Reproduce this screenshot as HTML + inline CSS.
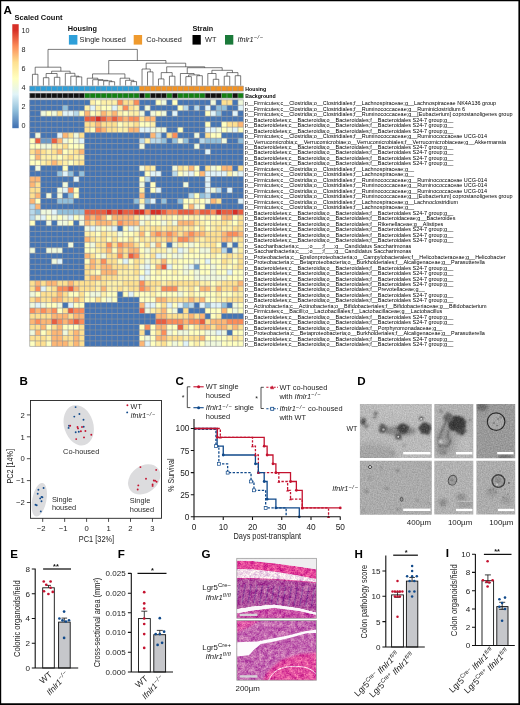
<!DOCTYPE html>
<html lang="en"><head><meta charset="utf-8"><title>Figure</title>
<style>html,body{margin:0;padding:0;background:#fff}body{width:520px;height:705px;overflow:hidden}svg{display:block}</style></head>
<body>
<svg width="520" height="705" viewBox="0 0 520 705" font-family='"Liberation Sans", Arial, sans-serif'>
<defs>
<linearGradient id="cb" x1="0" y1="0" x2="0" y2="1">
<stop offset="0" stop-color="#d73027"/>
<stop offset="0.059" stop-color="#d73027"/>
<stop offset="0.213" stop-color="#fc8d59"/>
<stop offset="0.367" stop-color="#fee090"/>
<stop offset="0.521" stop-color="#ffffbf"/>
<stop offset="0.675" stop-color="#e0f3f8"/>
<stop offset="0.829" stop-color="#91bfdb"/>
<stop offset="0.983" stop-color="#4575b4"/>
<stop offset="1" stop-color="#4575b4"/>
</linearGradient>
<filter id="b1" x="-50%" y="-50%" width="200%" height="200%"><feGaussianBlur stdDeviation="0.8"/></filter>
<filter id="b2" x="-50%" y="-50%" width="200%" height="200%"><feGaussianBlur stdDeviation="1.6"/></filter>
<filter id="b3" x="-50%" y="-50%" width="200%" height="200%"><feGaussianBlur stdDeviation="3"/></filter>
<filter id="b05" x="-50%" y="-50%" width="200%" height="200%"><feGaussianBlur stdDeviation="0.45"/></filter>
<filter id="grain" x="0" y="0" width="100%" height="100%" color-interpolation-filters="sRGB"><feTurbulence type="fractalNoise" baseFrequency="0.75" numOctaves="2" seed="3"/><feColorMatrix type="matrix" values="1 0 0 0 0  1 0 0 0 0  1 0 0 0 0  0 0 0 0 1" result="n"/><feComposite in="SourceGraphic" in2="n" operator="arithmetic" k1="0" k2="1" k3="0.2" k4="-0.1"/></filter>
<filter id="rough" x="-30%" y="-30%" width="160%" height="160%"><feTurbulence type="fractalNoise" baseFrequency="0.3" numOctaves="2" seed="5" result="t"/><feDisplacementMap in="SourceGraphic" in2="t" scale="4" xChannelSelector="R" yChannelSelector="G" result="d"/><feGaussianBlur in="d" stdDeviation="0.9"/></filter>
<filter id="hgrain" x="0" y="0" width="100%" height="100%" color-interpolation-filters="sRGB"><feTurbulence type="fractalNoise" baseFrequency="0.7" numOctaves="2" seed="8"/><feColorMatrix type="matrix" values="1.0 0 0 0 0  1.9 0 0 0 -0.45  0.8 0 0 0 0.1  0 0 0 0 1" result="n1"/><feTurbulence type="fractalNoise" baseFrequency="0.22" numOctaves="2" seed="21"/><feColorMatrix type="matrix" values="1.0 0 0 0 0  1.9 0 0 0 -0.45  0.8 0 0 0 0.1  0 0 0 0 1" result="n2"/><feComposite in="SourceGraphic" in2="n1" operator="arithmetic" k1="0" k2="1" k3="0.26" k4="-0.13" result="r1"/><feComposite in="r1" in2="n2" operator="arithmetic" k1="0" k2="1" k3="0.3" k4="-0.15" result="r2"/><feGaussianBlur in="r2" stdDeviation="0.35"/></filter>
</defs>
<rect x="0" y="0" width="520" height="705" fill="#fff"/>
<text x="3.60" y="13.70" font-size="11.6" font-weight="bold" fill="#000">A</text>
<text x="14.60" y="20.40" font-size="7.5" font-weight="bold" fill="#111">Scaled Count</text>
<rect x="12.3" y="24.2" width="6.4" height="104" fill="url(#cb)"/>
<text x="21.40" y="32.80" font-size="7.2" fill="#222">10</text>
<text x="21.40" y="51.90" font-size="7.2" fill="#222">8</text>
<text x="21.40" y="70.90" font-size="7.2" fill="#222">6</text>
<text x="21.40" y="89.90" font-size="7.2" fill="#222">4</text>
<text x="21.40" y="109.20" font-size="7.2" fill="#222">2</text>
<text x="21.40" y="128.40" font-size="7.2" fill="#222">0</text>
<text x="67.80" y="30.80" font-size="7.3" font-weight="bold" fill="#111">Housing</text>
<rect x="68.9" y="35" width="8.5" height="9.6" fill="#2e9fd9"/>
<text x="79.60" y="41.90" font-size="7.3" fill="#222">Single housed</text>
<rect x="133.7" y="35" width="8.4" height="9.6" fill="#ef9a2e"/>
<text x="146.20" y="41.90" font-size="7.3" fill="#222">Co-housed</text>
<text x="192.50" y="30.80" font-size="7.3" font-weight="bold" fill="#111">Strain</text>
<rect x="192.5" y="35" width="8.3" height="9.6" fill="#000"/>
<text x="205.00" y="41.90" font-size="7.3" fill="#222">WT</text>
<rect x="225" y="35" width="8.3" height="9.6" fill="#1b7a3a"/>
<text x="237.40" y="41.90" font-size="7.3" fill="#222"><tspan font-style="italic">Ifnlr1</tspan><tspan dy="-2.8" font-size="5.6" letter-spacing="0.7" font-style="italic">−/−</tspan></text>
<path d="M32.44 85.60V74.30H37.92V85.60M43.40 85.60V77.70H48.88V85.60M54.36 85.60V77.30H59.84V85.60M46.14 77.70V73.50H57.10V77.30M76.28 85.60V76.90H81.76V85.60M70.80 85.60V76.20H79.02V76.90M65.32 85.60V73.30H74.91V76.20M51.62 73.50V71.20H70.12V73.30M35.18 74.30V67.20H60.87V71.20M109.16 85.60V81.70H114.64V85.60M103.68 85.60V80.90H111.90V81.70M98.20 85.60V80.30H107.79V80.90M92.72 85.60V79.70H103.00V80.30M87.24 85.60V78.20H97.86V79.70M131.08 85.60V81.60H136.56V85.60M125.60 85.60V80.30H133.82V81.60M120.12 85.60V78.20H129.71V80.30M92.55 78.20V73.90H124.92V78.20M147.52 85.60V71.90H153.00V85.60M142.04 85.60V69.00H150.26V71.90M158.48 85.60V78.90H163.96V85.60M169.44 85.60V76.20H174.92V85.60M161.22 78.90V72.60H172.18V76.20M185.88 85.60V76.60H191.36V85.60M196.84 85.60V75.70H202.32V85.60M188.62 76.60V74.90H199.58V75.70M180.40 85.60V73.50H194.10V74.90M213.28 85.60V79.30H218.76V85.60M207.80 85.60V73.50H216.02V79.30M224.24 85.60V76.20H229.72V85.60M235.20 85.60V75.70H240.68V85.60M226.98 76.20V72.60H237.94V75.70M211.91 73.50V70.30H232.46V72.60M187.25 73.50V67.70H222.19V70.30M166.70 72.60V66.80H204.72V67.70M146.15 69.00V63.20H185.71V66.80M108.73 73.90V60.50H165.93V63.20M48.02 67.20V49.40H137.33V60.50" fill="none" stroke="#2b2b2b" stroke-width="0.62"/>
<rect x="29.70" y="86.1" width="5.48" height="5" fill="#2e9fd9"/>
<rect x="29.70" y="93.1" width="5.48" height="5" fill="#111"/>
<rect x="35.18" y="86.1" width="5.48" height="5" fill="#2e9fd9"/>
<rect x="35.18" y="93.1" width="5.48" height="5" fill="#111"/>
<rect x="40.66" y="86.1" width="5.48" height="5" fill="#2e9fd9"/>
<rect x="40.66" y="93.1" width="5.48" height="5" fill="#111"/>
<rect x="46.14" y="86.1" width="5.48" height="5" fill="#2e9fd9"/>
<rect x="46.14" y="93.1" width="5.48" height="5" fill="#111"/>
<rect x="51.62" y="86.1" width="5.48" height="5" fill="#2e9fd9"/>
<rect x="51.62" y="93.1" width="5.48" height="5" fill="#111"/>
<rect x="57.10" y="86.1" width="5.48" height="5" fill="#2e9fd9"/>
<rect x="57.10" y="93.1" width="5.48" height="5" fill="#111"/>
<rect x="62.58" y="86.1" width="5.48" height="5" fill="#2e9fd9"/>
<rect x="62.58" y="93.1" width="5.48" height="5" fill="#111"/>
<rect x="68.06" y="86.1" width="5.48" height="5" fill="#2e9fd9"/>
<rect x="68.06" y="93.1" width="5.48" height="5" fill="#111"/>
<rect x="73.54" y="86.1" width="5.48" height="5" fill="#2e9fd9"/>
<rect x="73.54" y="93.1" width="5.48" height="5" fill="#111"/>
<rect x="79.02" y="86.1" width="5.48" height="5" fill="#2e9fd9"/>
<rect x="79.02" y="93.1" width="5.48" height="5" fill="#111"/>
<rect x="84.50" y="86.1" width="5.48" height="5" fill="#2e9fd9"/>
<rect x="84.50" y="93.1" width="5.48" height="5" fill="#128012"/>
<rect x="89.98" y="86.1" width="5.48" height="5" fill="#2e9fd9"/>
<rect x="89.98" y="93.1" width="5.48" height="5" fill="#128012"/>
<rect x="95.46" y="86.1" width="5.48" height="5" fill="#2e9fd9"/>
<rect x="95.46" y="93.1" width="5.48" height="5" fill="#128012"/>
<rect x="100.94" y="86.1" width="5.48" height="5" fill="#2e9fd9"/>
<rect x="100.94" y="93.1" width="5.48" height="5" fill="#128012"/>
<rect x="106.42" y="86.1" width="5.48" height="5" fill="#2e9fd9"/>
<rect x="106.42" y="93.1" width="5.48" height="5" fill="#128012"/>
<rect x="111.90" y="86.1" width="5.48" height="5" fill="#2e9fd9"/>
<rect x="111.90" y="93.1" width="5.48" height="5" fill="#128012"/>
<rect x="117.38" y="86.1" width="5.48" height="5" fill="#2e9fd9"/>
<rect x="117.38" y="93.1" width="5.48" height="5" fill="#128012"/>
<rect x="122.86" y="86.1" width="5.48" height="5" fill="#2e9fd9"/>
<rect x="122.86" y="93.1" width="5.48" height="5" fill="#128012"/>
<rect x="128.34" y="86.1" width="5.48" height="5" fill="#2e9fd9"/>
<rect x="128.34" y="93.1" width="5.48" height="5" fill="#128012"/>
<rect x="133.82" y="86.1" width="5.48" height="5" fill="#2e9fd9"/>
<rect x="133.82" y="93.1" width="5.48" height="5" fill="#128012"/>
<rect x="139.30" y="86.1" width="5.48" height="5" fill="#f39323"/>
<rect x="139.30" y="93.1" width="5.48" height="5" fill="#111"/>
<rect x="144.78" y="86.1" width="5.48" height="5" fill="#f39323"/>
<rect x="144.78" y="93.1" width="5.48" height="5" fill="#128012"/>
<rect x="150.26" y="86.1" width="5.48" height="5" fill="#f39323"/>
<rect x="150.26" y="93.1" width="5.48" height="5" fill="#111"/>
<rect x="155.74" y="86.1" width="5.48" height="5" fill="#f39323"/>
<rect x="155.74" y="93.1" width="5.48" height="5" fill="#111"/>
<rect x="161.22" y="86.1" width="5.48" height="5" fill="#f39323"/>
<rect x="161.22" y="93.1" width="5.48" height="5" fill="#111"/>
<rect x="166.70" y="86.1" width="5.48" height="5" fill="#f39323"/>
<rect x="166.70" y="93.1" width="5.48" height="5" fill="#128012"/>
<rect x="172.18" y="86.1" width="5.48" height="5" fill="#f39323"/>
<rect x="172.18" y="93.1" width="5.48" height="5" fill="#111"/>
<rect x="177.66" y="86.1" width="5.48" height="5" fill="#f39323"/>
<rect x="177.66" y="93.1" width="5.48" height="5" fill="#128012"/>
<rect x="183.14" y="86.1" width="5.48" height="5" fill="#f39323"/>
<rect x="183.14" y="93.1" width="5.48" height="5" fill="#128012"/>
<rect x="188.62" y="86.1" width="5.48" height="5" fill="#f39323"/>
<rect x="188.62" y="93.1" width="5.48" height="5" fill="#128012"/>
<rect x="194.10" y="86.1" width="5.48" height="5" fill="#f39323"/>
<rect x="194.10" y="93.1" width="5.48" height="5" fill="#128012"/>
<rect x="199.58" y="86.1" width="5.48" height="5" fill="#f39323"/>
<rect x="199.58" y="93.1" width="5.48" height="5" fill="#128012"/>
<rect x="205.06" y="86.1" width="5.48" height="5" fill="#f39323"/>
<rect x="205.06" y="93.1" width="5.48" height="5" fill="#111"/>
<rect x="210.54" y="86.1" width="5.48" height="5" fill="#f39323"/>
<rect x="210.54" y="93.1" width="5.48" height="5" fill="#111"/>
<rect x="216.02" y="86.1" width="5.48" height="5" fill="#f39323"/>
<rect x="216.02" y="93.1" width="5.48" height="5" fill="#111"/>
<rect x="221.50" y="86.1" width="5.48" height="5" fill="#f39323"/>
<rect x="221.50" y="93.1" width="5.48" height="5" fill="#128012"/>
<rect x="226.98" y="86.1" width="5.48" height="5" fill="#f39323"/>
<rect x="226.98" y="93.1" width="5.48" height="5" fill="#128012"/>
<rect x="232.46" y="86.1" width="5.48" height="5" fill="#f39323"/>
<rect x="232.46" y="93.1" width="5.48" height="5" fill="#111"/>
<rect x="237.94" y="86.1" width="5.48" height="5" fill="#f39323"/>
<rect x="237.94" y="93.1" width="5.48" height="5" fill="#128012"/>
<rect x="29.70" y="99.80" width="60.33" height="5.53" fill="#4575b4"/>
<rect x="89.98" y="99.80" width="5.53" height="5.53" fill="#fef0a8"/>
<rect x="95.46" y="99.80" width="5.53" height="5.53" fill="#ffffbf"/>
<rect x="100.94" y="99.80" width="16.49" height="5.53" fill="#fef0a8"/>
<rect x="117.38" y="99.80" width="5.53" height="5.53" fill="#fc8d59"/>
<rect x="122.86" y="99.80" width="11.01" height="5.53" fill="#fee090"/>
<rect x="133.82" y="99.80" width="5.53" height="5.53" fill="#fc8d59"/>
<rect x="139.30" y="99.80" width="16.49" height="5.53" fill="#4575b4"/>
<rect x="155.74" y="99.80" width="5.53" height="5.53" fill="#ffffbf"/>
<rect x="161.22" y="99.80" width="5.53" height="5.53" fill="#f0f9dc"/>
<rect x="166.70" y="99.80" width="5.53" height="5.53" fill="#4575b4"/>
<rect x="172.18" y="99.80" width="5.53" height="5.53" fill="#ffffbf"/>
<rect x="177.66" y="99.80" width="32.93" height="5.53" fill="#4575b4"/>
<rect x="210.54" y="99.80" width="5.53" height="5.53" fill="#f0f9dc"/>
<rect x="216.02" y="99.80" width="5.53" height="5.53" fill="#4575b4"/>
<rect x="221.50" y="99.80" width="11.01" height="5.53" fill="#fee090"/>
<rect x="232.46" y="99.80" width="5.53" height="5.53" fill="#4575b4"/>
<rect x="237.94" y="99.80" width="5.53" height="5.53" fill="#f0f9dc"/>
<rect x="29.70" y="105.28" width="32.93" height="5.53" fill="#4575b4"/>
<rect x="62.58" y="105.28" width="5.53" height="5.53" fill="#91bfdb"/>
<rect x="68.06" y="105.28" width="16.49" height="5.53" fill="#4575b4"/>
<rect x="84.50" y="105.28" width="5.53" height="5.53" fill="#fef0a8"/>
<rect x="89.98" y="105.28" width="5.53" height="5.53" fill="#e0f3f8"/>
<rect x="95.46" y="105.28" width="5.53" height="5.53" fill="#fef0a8"/>
<rect x="100.94" y="105.28" width="11.01" height="5.53" fill="#ffffbf"/>
<rect x="111.90" y="105.28" width="5.53" height="5.53" fill="#e0f3f8"/>
<rect x="117.38" y="105.28" width="5.53" height="5.53" fill="#fef0a8"/>
<rect x="122.86" y="105.28" width="5.53" height="5.53" fill="#fc8d59"/>
<rect x="128.34" y="105.28" width="5.53" height="5.53" fill="#fee090"/>
<rect x="133.82" y="105.28" width="5.53" height="5.53" fill="#fef0a8"/>
<rect x="139.30" y="105.28" width="5.53" height="5.53" fill="#4575b4"/>
<rect x="144.78" y="105.28" width="5.53" height="5.53" fill="#f0f9dc"/>
<rect x="150.26" y="105.28" width="27.45" height="5.53" fill="#4575b4"/>
<rect x="177.66" y="105.28" width="5.53" height="5.53" fill="#ffffbf"/>
<rect x="183.14" y="105.28" width="5.53" height="5.53" fill="#b8d9ea"/>
<rect x="188.62" y="105.28" width="5.53" height="5.53" fill="#4575b4"/>
<rect x="194.10" y="105.28" width="5.53" height="5.53" fill="#b8d9ea"/>
<rect x="199.58" y="105.28" width="5.53" height="5.53" fill="#4575b4"/>
<rect x="205.06" y="105.28" width="5.53" height="5.53" fill="#e0f3f8"/>
<rect x="210.54" y="105.28" width="5.53" height="5.53" fill="#4575b4"/>
<rect x="216.02" y="105.28" width="11.01" height="5.53" fill="#91bfdb"/>
<rect x="226.98" y="105.28" width="11.01" height="5.53" fill="#4575b4"/>
<rect x="237.94" y="105.28" width="5.53" height="5.53" fill="#e0f3f8"/>
<rect x="29.70" y="110.76" width="11.01" height="5.53" fill="#4575b4"/>
<rect x="40.66" y="110.76" width="5.53" height="5.53" fill="#f0f9dc"/>
<rect x="46.14" y="110.76" width="5.53" height="5.53" fill="#ffffbf"/>
<rect x="51.62" y="110.76" width="5.53" height="5.53" fill="#f0f9dc"/>
<rect x="57.10" y="110.76" width="5.53" height="5.53" fill="#fee090"/>
<rect x="62.58" y="110.76" width="11.01" height="5.53" fill="#e0f3f8"/>
<rect x="73.54" y="110.76" width="5.53" height="5.53" fill="#b8d9ea"/>
<rect x="79.02" y="110.76" width="5.53" height="5.53" fill="#ffffbf"/>
<rect x="84.50" y="110.76" width="5.53" height="5.53" fill="#fdb674"/>
<rect x="89.98" y="110.76" width="5.53" height="5.53" fill="#ffffbf"/>
<rect x="95.46" y="110.76" width="5.53" height="5.53" fill="#fef0a8"/>
<rect x="100.94" y="110.76" width="5.53" height="5.53" fill="#fdb674"/>
<rect x="106.42" y="110.76" width="5.53" height="5.53" fill="#fee090"/>
<rect x="111.90" y="110.76" width="5.53" height="5.53" fill="#fdb674"/>
<rect x="117.38" y="110.76" width="5.53" height="5.53" fill="#fef0a8"/>
<rect x="122.86" y="110.76" width="5.53" height="5.53" fill="#ffffbf"/>
<rect x="128.34" y="110.76" width="11.01" height="5.53" fill="#fef0a8"/>
<rect x="139.30" y="110.76" width="5.53" height="5.53" fill="#f0f9dc"/>
<rect x="144.78" y="110.76" width="5.53" height="5.53" fill="#4575b4"/>
<rect x="150.26" y="110.76" width="5.53" height="5.53" fill="#f0f9dc"/>
<rect x="155.74" y="110.76" width="5.53" height="5.53" fill="#ffffbf"/>
<rect x="161.22" y="110.76" width="5.53" height="5.53" fill="#f0f9dc"/>
<rect x="166.70" y="110.76" width="5.53" height="5.53" fill="#4575b4"/>
<rect x="172.18" y="110.76" width="5.53" height="5.53" fill="#e0f3f8"/>
<rect x="177.66" y="110.76" width="27.45" height="5.53" fill="#4575b4"/>
<rect x="205.06" y="110.76" width="5.53" height="5.53" fill="#ffffbf"/>
<rect x="210.54" y="110.76" width="5.53" height="5.53" fill="#e0f3f8"/>
<rect x="216.02" y="110.76" width="5.53" height="5.53" fill="#91bfdb"/>
<rect x="221.50" y="110.76" width="11.01" height="5.53" fill="#4575b4"/>
<rect x="232.46" y="110.76" width="5.53" height="5.53" fill="#e0f3f8"/>
<rect x="237.94" y="110.76" width="5.53" height="5.53" fill="#4575b4"/>
<rect x="29.70" y="116.24" width="54.85" height="5.53" fill="#4575b4"/>
<rect x="84.50" y="116.24" width="11.01" height="5.53" fill="#ea5e40"/>
<rect x="95.46" y="116.24" width="5.53" height="5.53" fill="#d73027"/>
<rect x="100.94" y="116.24" width="5.53" height="5.53" fill="#ea5e40"/>
<rect x="106.42" y="116.24" width="5.53" height="5.53" fill="#fc8d59"/>
<rect x="111.90" y="116.24" width="5.53" height="5.53" fill="#ea5e40"/>
<rect x="117.38" y="116.24" width="5.53" height="5.53" fill="#fc8d59"/>
<rect x="122.86" y="116.24" width="5.53" height="5.53" fill="#fdb674"/>
<rect x="128.34" y="116.24" width="11.01" height="5.53" fill="#fc8d59"/>
<rect x="139.30" y="116.24" width="5.53" height="5.53" fill="#fee090"/>
<rect x="144.78" y="116.24" width="11.01" height="5.53" fill="#fdb674"/>
<rect x="155.74" y="116.24" width="87.73" height="5.53" fill="#4575b4"/>
<rect x="29.70" y="121.72" width="54.85" height="5.53" fill="#4575b4"/>
<rect x="84.50" y="121.72" width="11.01" height="5.53" fill="#fee090"/>
<rect x="95.46" y="121.72" width="5.53" height="5.53" fill="#fdb674"/>
<rect x="100.94" y="121.72" width="16.49" height="5.53" fill="#fee090"/>
<rect x="117.38" y="121.72" width="5.53" height="5.53" fill="#ffffbf"/>
<rect x="122.86" y="121.72" width="11.01" height="5.53" fill="#fef0a8"/>
<rect x="133.82" y="121.72" width="5.53" height="5.53" fill="#fee090"/>
<rect x="139.30" y="121.72" width="11.01" height="5.53" fill="#ffffbf"/>
<rect x="150.26" y="121.72" width="5.53" height="5.53" fill="#fef0a8"/>
<rect x="155.74" y="121.72" width="49.37" height="5.53" fill="#4575b4"/>
<rect x="205.06" y="121.72" width="5.53" height="5.53" fill="#ffffbf"/>
<rect x="210.54" y="121.72" width="11.01" height="5.53" fill="#4575b4"/>
<rect x="221.50" y="121.72" width="5.53" height="5.53" fill="#ffffbf"/>
<rect x="226.98" y="121.72" width="11.01" height="5.53" fill="#fee090"/>
<rect x="237.94" y="121.72" width="5.53" height="5.53" fill="#fdb674"/>
<rect x="29.70" y="127.20" width="54.85" height="5.53" fill="#4575b4"/>
<rect x="84.50" y="127.20" width="5.53" height="5.53" fill="#fee090"/>
<rect x="89.98" y="127.20" width="5.53" height="5.53" fill="#ffffbf"/>
<rect x="95.46" y="127.20" width="5.53" height="5.53" fill="#fc8d59"/>
<rect x="100.94" y="127.20" width="5.53" height="5.53" fill="#fdb674"/>
<rect x="106.42" y="127.20" width="11.01" height="5.53" fill="#fee090"/>
<rect x="117.38" y="127.20" width="11.01" height="5.53" fill="#fef0a8"/>
<rect x="128.34" y="127.20" width="11.01" height="5.53" fill="#fdb674"/>
<rect x="139.30" y="127.20" width="11.01" height="5.53" fill="#e0f3f8"/>
<rect x="150.26" y="127.20" width="16.49" height="5.53" fill="#f0f9dc"/>
<rect x="166.70" y="127.20" width="11.01" height="5.53" fill="#4575b4"/>
<rect x="177.66" y="127.20" width="5.53" height="5.53" fill="#ffffbf"/>
<rect x="183.14" y="127.20" width="21.97" height="5.53" fill="#4575b4"/>
<rect x="205.06" y="127.20" width="11.01" height="5.53" fill="#e0f3f8"/>
<rect x="216.02" y="127.20" width="5.53" height="5.53" fill="#f0f9dc"/>
<rect x="221.50" y="127.20" width="5.53" height="5.53" fill="#ffffbf"/>
<rect x="226.98" y="127.20" width="5.53" height="5.53" fill="#f0f9dc"/>
<rect x="232.46" y="127.20" width="5.53" height="5.53" fill="#e0f3f8"/>
<rect x="237.94" y="127.20" width="5.53" height="5.53" fill="#ffffbf"/>
<rect x="29.70" y="132.68" width="5.53" height="5.53" fill="#4575b4"/>
<rect x="35.18" y="132.68" width="5.53" height="5.53" fill="#f0f9dc"/>
<rect x="40.66" y="132.68" width="16.49" height="5.53" fill="#4575b4"/>
<rect x="57.10" y="132.68" width="5.53" height="5.53" fill="#e0f3f8"/>
<rect x="62.58" y="132.68" width="5.53" height="5.53" fill="#fdb674"/>
<rect x="68.06" y="132.68" width="5.53" height="5.53" fill="#fee090"/>
<rect x="73.54" y="132.68" width="5.53" height="5.53" fill="#f0f9dc"/>
<rect x="79.02" y="132.68" width="5.53" height="5.53" fill="#fee090"/>
<rect x="84.50" y="132.68" width="65.81" height="5.53" fill="#4575b4"/>
<rect x="150.26" y="132.68" width="5.53" height="5.53" fill="#fdb674"/>
<rect x="155.74" y="132.68" width="5.53" height="5.53" fill="#b8d9ea"/>
<rect x="161.22" y="132.68" width="5.53" height="5.53" fill="#4575b4"/>
<rect x="166.70" y="132.68" width="5.53" height="5.53" fill="#fee090"/>
<rect x="172.18" y="132.68" width="5.53" height="5.53" fill="#fc8d59"/>
<rect x="177.66" y="132.68" width="16.49" height="5.53" fill="#4575b4"/>
<rect x="194.10" y="132.68" width="5.53" height="5.53" fill="#f0f9dc"/>
<rect x="199.58" y="132.68" width="5.53" height="5.53" fill="#4575b4"/>
<rect x="205.06" y="132.68" width="5.53" height="5.53" fill="#fee090"/>
<rect x="210.54" y="132.68" width="11.01" height="5.53" fill="#ffffbf"/>
<rect x="221.50" y="132.68" width="21.97" height="5.53" fill="#4575b4"/>
<rect x="29.70" y="138.16" width="5.53" height="5.53" fill="#ffffbf"/>
<rect x="35.18" y="138.16" width="5.53" height="5.53" fill="#ea5e40"/>
<rect x="40.66" y="138.16" width="11.01" height="5.53" fill="#6b9ac8"/>
<rect x="51.62" y="138.16" width="5.53" height="5.53" fill="#ea5e40"/>
<rect x="57.10" y="138.16" width="5.53" height="5.53" fill="#fdb674"/>
<rect x="62.58" y="138.16" width="5.53" height="5.53" fill="#f0f9dc"/>
<rect x="68.06" y="138.16" width="5.53" height="5.53" fill="#ffffbf"/>
<rect x="73.54" y="138.16" width="5.53" height="5.53" fill="#f0f9dc"/>
<rect x="79.02" y="138.16" width="5.53" height="5.53" fill="#e0f3f8"/>
<rect x="84.50" y="138.16" width="54.85" height="5.53" fill="#4575b4"/>
<rect x="139.30" y="138.16" width="5.53" height="5.53" fill="#b8d9ea"/>
<rect x="144.78" y="138.16" width="5.53" height="5.53" fill="#fef0a8"/>
<rect x="150.26" y="138.16" width="11.01" height="5.53" fill="#b8d9ea"/>
<rect x="161.22" y="138.16" width="5.53" height="5.53" fill="#91bfdb"/>
<rect x="166.70" y="138.16" width="5.53" height="5.53" fill="#4575b4"/>
<rect x="172.18" y="138.16" width="5.53" height="5.53" fill="#91bfdb"/>
<rect x="177.66" y="138.16" width="5.53" height="5.53" fill="#f0f9dc"/>
<rect x="183.14" y="138.16" width="5.53" height="5.53" fill="#91bfdb"/>
<rect x="188.62" y="138.16" width="11.01" height="5.53" fill="#4575b4"/>
<rect x="199.58" y="138.16" width="5.53" height="5.53" fill="#b8d9ea"/>
<rect x="205.06" y="138.16" width="16.49" height="5.53" fill="#91bfdb"/>
<rect x="221.50" y="138.16" width="5.53" height="5.53" fill="#f0f9dc"/>
<rect x="226.98" y="138.16" width="11.01" height="5.53" fill="#4575b4"/>
<rect x="237.94" y="138.16" width="5.53" height="5.53" fill="#91bfdb"/>
<rect x="29.70" y="143.64" width="11.01" height="5.53" fill="#ffffbf"/>
<rect x="40.66" y="143.64" width="11.01" height="5.53" fill="#f0f9dc"/>
<rect x="51.62" y="143.64" width="11.01" height="5.53" fill="#fef0a8"/>
<rect x="62.58" y="143.64" width="5.53" height="5.53" fill="#fee090"/>
<rect x="68.06" y="143.64" width="16.49" height="5.53" fill="#ffffbf"/>
<rect x="84.50" y="143.64" width="54.85" height="5.53" fill="#4575b4"/>
<rect x="139.30" y="143.64" width="5.53" height="5.53" fill="#f0f9dc"/>
<rect x="144.78" y="143.64" width="49.37" height="5.53" fill="#4575b4"/>
<rect x="194.10" y="143.64" width="5.53" height="5.53" fill="#f0f9dc"/>
<rect x="199.58" y="143.64" width="43.89" height="5.53" fill="#4575b4"/>
<rect x="29.70" y="149.12" width="5.53" height="5.53" fill="#fee090"/>
<rect x="35.18" y="149.12" width="5.53" height="5.53" fill="#fdb674"/>
<rect x="40.66" y="149.12" width="5.53" height="5.53" fill="#fee090"/>
<rect x="46.14" y="149.12" width="5.53" height="5.53" fill="#fef0a8"/>
<rect x="51.62" y="149.12" width="5.53" height="5.53" fill="#fee090"/>
<rect x="57.10" y="149.12" width="5.53" height="5.53" fill="#fdb674"/>
<rect x="62.58" y="149.12" width="5.53" height="5.53" fill="#ffffbf"/>
<rect x="68.06" y="149.12" width="5.53" height="5.53" fill="#fef0a8"/>
<rect x="73.54" y="149.12" width="5.53" height="5.53" fill="#fee090"/>
<rect x="79.02" y="149.12" width="5.53" height="5.53" fill="#fdb674"/>
<rect x="84.50" y="149.12" width="120.61" height="5.53" fill="#4575b4"/>
<rect x="205.06" y="149.12" width="5.53" height="5.53" fill="#e0f3f8"/>
<rect x="210.54" y="149.12" width="32.93" height="5.53" fill="#4575b4"/>
<rect x="29.70" y="154.60" width="5.53" height="5.53" fill="#ffffbf"/>
<rect x="35.18" y="154.60" width="5.53" height="5.53" fill="#fdb674"/>
<rect x="40.66" y="154.60" width="16.49" height="5.53" fill="#fef0a8"/>
<rect x="57.10" y="154.60" width="5.53" height="5.53" fill="#ffffbf"/>
<rect x="62.58" y="154.60" width="5.53" height="5.53" fill="#fef0a8"/>
<rect x="68.06" y="154.60" width="5.53" height="5.53" fill="#fee090"/>
<rect x="73.54" y="154.60" width="11.01" height="5.53" fill="#fef0a8"/>
<rect x="84.50" y="154.60" width="158.97" height="5.53" fill="#4575b4"/>
<rect x="29.70" y="160.08" width="11.01" height="5.53" fill="#ffffbf"/>
<rect x="40.66" y="160.08" width="5.53" height="5.53" fill="#fef0a8"/>
<rect x="46.14" y="160.08" width="5.53" height="5.53" fill="#fee090"/>
<rect x="51.62" y="160.08" width="5.53" height="5.53" fill="#fdb674"/>
<rect x="57.10" y="160.08" width="5.53" height="5.53" fill="#fee090"/>
<rect x="62.58" y="160.08" width="5.53" height="5.53" fill="#fef0a8"/>
<rect x="68.06" y="160.08" width="5.53" height="5.53" fill="#ffffbf"/>
<rect x="73.54" y="160.08" width="5.53" height="5.53" fill="#fef0a8"/>
<rect x="79.02" y="160.08" width="5.53" height="5.53" fill="#fee090"/>
<rect x="84.50" y="160.08" width="158.97" height="5.53" fill="#4575b4"/>
<rect x="29.70" y="165.56" width="5.53" height="5.53" fill="#4575b4"/>
<rect x="35.18" y="165.56" width="5.53" height="5.53" fill="#f0f9dc"/>
<rect x="40.66" y="165.56" width="21.97" height="5.53" fill="#4575b4"/>
<rect x="62.58" y="165.56" width="5.53" height="5.53" fill="#ffffbf"/>
<rect x="68.06" y="165.56" width="71.29" height="5.53" fill="#4575b4"/>
<rect x="139.30" y="165.56" width="5.53" height="5.53" fill="#f0f9dc"/>
<rect x="144.78" y="165.56" width="5.53" height="5.53" fill="#fee090"/>
<rect x="150.26" y="165.56" width="5.53" height="5.53" fill="#fef0a8"/>
<rect x="155.74" y="165.56" width="16.49" height="5.53" fill="#4575b4"/>
<rect x="172.18" y="165.56" width="5.53" height="5.53" fill="#f0f9dc"/>
<rect x="177.66" y="165.56" width="5.53" height="5.53" fill="#fee090"/>
<rect x="183.14" y="165.56" width="5.53" height="5.53" fill="#fef0a8"/>
<rect x="188.62" y="165.56" width="5.53" height="5.53" fill="#fdb674"/>
<rect x="194.10" y="165.56" width="5.53" height="5.53" fill="#ffffbf"/>
<rect x="199.58" y="165.56" width="5.53" height="5.53" fill="#4575b4"/>
<rect x="205.06" y="165.56" width="5.53" height="5.53" fill="#fee090"/>
<rect x="210.54" y="165.56" width="5.53" height="5.53" fill="#f0f9dc"/>
<rect x="216.02" y="165.56" width="5.53" height="5.53" fill="#ffffbf"/>
<rect x="221.50" y="165.56" width="11.01" height="5.53" fill="#fdb674"/>
<rect x="232.46" y="165.56" width="5.53" height="5.53" fill="#4575b4"/>
<rect x="237.94" y="165.56" width="5.53" height="5.53" fill="#fee090"/>
<rect x="29.70" y="171.04" width="27.45" height="5.53" fill="#4575b4"/>
<rect x="57.10" y="171.04" width="5.53" height="5.53" fill="#91bfdb"/>
<rect x="62.58" y="171.04" width="5.53" height="5.53" fill="#e0f3f8"/>
<rect x="68.06" y="171.04" width="5.53" height="5.53" fill="#91bfdb"/>
<rect x="73.54" y="171.04" width="5.53" height="5.53" fill="#4575b4"/>
<rect x="79.02" y="171.04" width="5.53" height="5.53" fill="#91bfdb"/>
<rect x="84.50" y="171.04" width="60.33" height="5.53" fill="#4575b4"/>
<rect x="144.78" y="171.04" width="5.53" height="5.53" fill="#ffffbf"/>
<rect x="150.26" y="171.04" width="11.01" height="5.53" fill="#e0f3f8"/>
<rect x="161.22" y="171.04" width="11.01" height="5.53" fill="#4575b4"/>
<rect x="172.18" y="171.04" width="5.53" height="5.53" fill="#b8d9ea"/>
<rect x="177.66" y="171.04" width="5.53" height="5.53" fill="#ffffbf"/>
<rect x="183.14" y="171.04" width="5.53" height="5.53" fill="#f0f9dc"/>
<rect x="188.62" y="171.04" width="5.53" height="5.53" fill="#e0f3f8"/>
<rect x="194.10" y="171.04" width="5.53" height="5.53" fill="#ffffbf"/>
<rect x="199.58" y="171.04" width="5.53" height="5.53" fill="#fdb674"/>
<rect x="205.06" y="171.04" width="21.97" height="5.53" fill="#e0f3f8"/>
<rect x="226.98" y="171.04" width="5.53" height="5.53" fill="#fef0a8"/>
<rect x="232.46" y="171.04" width="5.53" height="5.53" fill="#f0f9dc"/>
<rect x="237.94" y="171.04" width="5.53" height="5.53" fill="#e0f3f8"/>
<rect x="29.70" y="176.52" width="11.01" height="5.53" fill="#fdb674"/>
<rect x="40.66" y="176.52" width="32.93" height="5.53" fill="#4575b4"/>
<rect x="73.54" y="176.52" width="5.53" height="5.53" fill="#e0f3f8"/>
<rect x="79.02" y="176.52" width="60.33" height="5.53" fill="#4575b4"/>
<rect x="139.30" y="176.52" width="5.53" height="5.53" fill="#ffffbf"/>
<rect x="144.78" y="176.52" width="5.53" height="5.53" fill="#b8d9ea"/>
<rect x="150.26" y="176.52" width="54.85" height="5.53" fill="#4575b4"/>
<rect x="205.06" y="176.52" width="5.53" height="5.53" fill="#e0f3f8"/>
<rect x="210.54" y="176.52" width="32.93" height="5.53" fill="#4575b4"/>
<rect x="29.70" y="182.00" width="5.53" height="5.53" fill="#fdb674"/>
<rect x="35.18" y="182.00" width="5.53" height="5.53" fill="#fee090"/>
<rect x="40.66" y="182.00" width="21.97" height="5.53" fill="#4575b4"/>
<rect x="62.58" y="182.00" width="5.53" height="5.53" fill="#f0f9dc"/>
<rect x="68.06" y="182.00" width="71.29" height="5.53" fill="#4575b4"/>
<rect x="139.30" y="182.00" width="5.53" height="5.53" fill="#f0f9dc"/>
<rect x="144.78" y="182.00" width="5.53" height="5.53" fill="#4575b4"/>
<rect x="150.26" y="182.00" width="5.53" height="5.53" fill="#ffffbf"/>
<rect x="155.74" y="182.00" width="27.45" height="5.53" fill="#4575b4"/>
<rect x="183.14" y="182.00" width="5.53" height="5.53" fill="#f0f9dc"/>
<rect x="188.62" y="182.00" width="16.49" height="5.53" fill="#4575b4"/>
<rect x="205.06" y="182.00" width="5.53" height="5.53" fill="#e0f3f8"/>
<rect x="210.54" y="182.00" width="32.93" height="5.53" fill="#4575b4"/>
<rect x="29.70" y="187.48" width="11.01" height="5.53" fill="#fee090"/>
<rect x="40.66" y="187.48" width="16.49" height="5.53" fill="#4575b4"/>
<rect x="57.10" y="187.48" width="5.53" height="5.53" fill="#f0f9dc"/>
<rect x="62.58" y="187.48" width="5.53" height="5.53" fill="#e0f3f8"/>
<rect x="68.06" y="187.48" width="5.53" height="5.53" fill="#fc8d59"/>
<rect x="73.54" y="187.48" width="5.53" height="5.53" fill="#ffffbf"/>
<rect x="79.02" y="187.48" width="60.33" height="5.53" fill="#4575b4"/>
<rect x="139.30" y="187.48" width="5.53" height="5.53" fill="#fef0a8"/>
<rect x="144.78" y="187.48" width="5.53" height="5.53" fill="#4575b4"/>
<rect x="150.26" y="187.48" width="5.53" height="5.53" fill="#ffffbf"/>
<rect x="155.74" y="187.48" width="5.53" height="5.53" fill="#e0f3f8"/>
<rect x="161.22" y="187.48" width="43.89" height="5.53" fill="#4575b4"/>
<rect x="205.06" y="187.48" width="5.53" height="5.53" fill="#e0f3f8"/>
<rect x="210.54" y="187.48" width="5.53" height="5.53" fill="#f0f9dc"/>
<rect x="216.02" y="187.48" width="5.53" height="5.53" fill="#b8d9ea"/>
<rect x="221.50" y="187.48" width="5.53" height="5.53" fill="#4575b4"/>
<rect x="226.98" y="187.48" width="5.53" height="5.53" fill="#e0f3f8"/>
<rect x="232.46" y="187.48" width="11.01" height="5.53" fill="#4575b4"/>
<rect x="29.70" y="192.96" width="5.53" height="5.53" fill="#fee090"/>
<rect x="35.18" y="192.96" width="5.53" height="5.53" fill="#fdb674"/>
<rect x="40.66" y="192.96" width="5.53" height="5.53" fill="#4575b4"/>
<rect x="46.14" y="192.96" width="5.53" height="5.53" fill="#f0f9dc"/>
<rect x="51.62" y="192.96" width="5.53" height="5.53" fill="#4575b4"/>
<rect x="57.10" y="192.96" width="5.53" height="5.53" fill="#f0f9dc"/>
<rect x="62.58" y="192.96" width="5.53" height="5.53" fill="#4575b4"/>
<rect x="68.06" y="192.96" width="5.53" height="5.53" fill="#91bfdb"/>
<rect x="73.54" y="192.96" width="5.53" height="5.53" fill="#ffffbf"/>
<rect x="79.02" y="192.96" width="60.33" height="5.53" fill="#4575b4"/>
<rect x="139.30" y="192.96" width="5.53" height="5.53" fill="#fdb674"/>
<rect x="144.78" y="192.96" width="43.89" height="5.53" fill="#4575b4"/>
<rect x="188.62" y="192.96" width="5.53" height="5.53" fill="#b8d9ea"/>
<rect x="194.10" y="192.96" width="5.53" height="5.53" fill="#ffffbf"/>
<rect x="199.58" y="192.96" width="5.53" height="5.53" fill="#91bfdb"/>
<rect x="205.06" y="192.96" width="5.53" height="5.53" fill="#b8d9ea"/>
<rect x="210.54" y="192.96" width="32.93" height="5.53" fill="#4575b4"/>
<rect x="29.70" y="198.44" width="5.53" height="5.53" fill="#fdb674"/>
<rect x="35.18" y="198.44" width="5.53" height="5.53" fill="#ffffbf"/>
<rect x="40.66" y="198.44" width="16.49" height="5.53" fill="#4575b4"/>
<rect x="57.10" y="198.44" width="16.49" height="5.53" fill="#91bfdb"/>
<rect x="73.54" y="198.44" width="60.33" height="5.53" fill="#4575b4"/>
<rect x="133.82" y="198.44" width="5.53" height="5.53" fill="#91bfdb"/>
<rect x="139.30" y="198.44" width="5.53" height="5.53" fill="#fef0a8"/>
<rect x="144.78" y="198.44" width="5.53" height="5.53" fill="#91bfdb"/>
<rect x="150.26" y="198.44" width="5.53" height="5.53" fill="#e0f3f8"/>
<rect x="155.74" y="198.44" width="5.53" height="5.53" fill="#4575b4"/>
<rect x="161.22" y="198.44" width="5.53" height="5.53" fill="#91bfdb"/>
<rect x="166.70" y="198.44" width="11.01" height="5.53" fill="#4575b4"/>
<rect x="177.66" y="198.44" width="5.53" height="5.53" fill="#91bfdb"/>
<rect x="183.14" y="198.44" width="11.01" height="5.53" fill="#ffffbf"/>
<rect x="194.10" y="198.44" width="5.53" height="5.53" fill="#fef0a8"/>
<rect x="199.58" y="198.44" width="5.53" height="5.53" fill="#ffffbf"/>
<rect x="205.06" y="198.44" width="5.53" height="5.53" fill="#f0f9dc"/>
<rect x="210.54" y="198.44" width="5.53" height="5.53" fill="#fdb674"/>
<rect x="216.02" y="198.44" width="5.53" height="5.53" fill="#fee090"/>
<rect x="221.50" y="198.44" width="16.49" height="5.53" fill="#4575b4"/>
<rect x="237.94" y="198.44" width="5.53" height="5.53" fill="#e0f3f8"/>
<rect x="29.70" y="203.92" width="5.53" height="5.53" fill="#b8d9ea"/>
<rect x="35.18" y="203.92" width="5.53" height="5.53" fill="#fdb674"/>
<rect x="40.66" y="203.92" width="98.69" height="5.53" fill="#4575b4"/>
<rect x="139.30" y="203.92" width="5.53" height="5.53" fill="#f0f9dc"/>
<rect x="144.78" y="203.92" width="38.41" height="5.53" fill="#4575b4"/>
<rect x="183.14" y="203.92" width="5.53" height="5.53" fill="#ffffbf"/>
<rect x="188.62" y="203.92" width="5.53" height="5.53" fill="#fdb674"/>
<rect x="194.10" y="203.92" width="5.53" height="5.53" fill="#f0f9dc"/>
<rect x="199.58" y="203.92" width="5.53" height="5.53" fill="#ffffbf"/>
<rect x="205.06" y="203.92" width="38.41" height="5.53" fill="#4575b4"/>
<rect x="29.70" y="209.40" width="5.53" height="5.53" fill="#b8d9ea"/>
<rect x="35.18" y="209.40" width="5.53" height="5.53" fill="#91bfdb"/>
<rect x="40.66" y="209.40" width="11.01" height="5.53" fill="#f0f9dc"/>
<rect x="51.62" y="209.40" width="5.53" height="5.53" fill="#e0f3f8"/>
<rect x="57.10" y="209.40" width="27.45" height="5.53" fill="#91bfdb"/>
<rect x="84.50" y="209.40" width="21.97" height="5.53" fill="#ea5e40"/>
<rect x="106.42" y="209.40" width="5.53" height="5.53" fill="#d73027"/>
<rect x="111.90" y="209.40" width="5.53" height="5.53" fill="#ea5e40"/>
<rect x="117.38" y="209.40" width="5.53" height="5.53" fill="#d73027"/>
<rect x="122.86" y="209.40" width="11.01" height="5.53" fill="#ea5e40"/>
<rect x="133.82" y="209.40" width="11.01" height="5.53" fill="#d73027"/>
<rect x="144.78" y="209.40" width="5.53" height="5.53" fill="#fc8d59"/>
<rect x="150.26" y="209.40" width="11.01" height="5.53" fill="#d73027"/>
<rect x="161.22" y="209.40" width="5.53" height="5.53" fill="#ea5e40"/>
<rect x="166.70" y="209.40" width="11.01" height="5.53" fill="#fc8d59"/>
<rect x="177.66" y="209.40" width="16.49" height="5.53" fill="#ea5e40"/>
<rect x="194.10" y="209.40" width="5.53" height="5.53" fill="#fc8d59"/>
<rect x="199.58" y="209.40" width="11.01" height="5.53" fill="#ea5e40"/>
<rect x="210.54" y="209.40" width="5.53" height="5.53" fill="#fc8d59"/>
<rect x="216.02" y="209.40" width="5.53" height="5.53" fill="#d73027"/>
<rect x="221.50" y="209.40" width="11.01" height="5.53" fill="#ea5e40"/>
<rect x="232.46" y="209.40" width="5.53" height="5.53" fill="#d73027"/>
<rect x="237.94" y="209.40" width="5.53" height="5.53" fill="#ea5e40"/>
<rect x="29.70" y="214.88" width="5.53" height="5.53" fill="#b8d9ea"/>
<rect x="35.18" y="214.88" width="5.53" height="5.53" fill="#f0f9dc"/>
<rect x="40.66" y="214.88" width="5.53" height="5.53" fill="#e0f3f8"/>
<rect x="46.14" y="214.88" width="5.53" height="5.53" fill="#ffffbf"/>
<rect x="51.62" y="214.88" width="5.53" height="5.53" fill="#f0f9dc"/>
<rect x="57.10" y="214.88" width="5.53" height="5.53" fill="#ffffbf"/>
<rect x="62.58" y="214.88" width="5.53" height="5.53" fill="#f0f9dc"/>
<rect x="68.06" y="214.88" width="5.53" height="5.53" fill="#e0f3f8"/>
<rect x="73.54" y="214.88" width="5.53" height="5.53" fill="#ffffbf"/>
<rect x="79.02" y="214.88" width="5.53" height="5.53" fill="#f0f9dc"/>
<rect x="84.50" y="214.88" width="5.53" height="5.53" fill="#fc8d59"/>
<rect x="89.98" y="214.88" width="5.53" height="5.53" fill="#fdb674"/>
<rect x="95.46" y="214.88" width="5.53" height="5.53" fill="#fc8d59"/>
<rect x="100.94" y="214.88" width="5.53" height="5.53" fill="#fdb674"/>
<rect x="106.42" y="214.88" width="5.53" height="5.53" fill="#ffffbf"/>
<rect x="111.90" y="214.88" width="21.97" height="5.53" fill="#fdb674"/>
<rect x="133.82" y="214.88" width="5.53" height="5.53" fill="#fee090"/>
<rect x="139.30" y="214.88" width="5.53" height="5.53" fill="#ffffbf"/>
<rect x="144.78" y="214.88" width="5.53" height="5.53" fill="#f0f9dc"/>
<rect x="150.26" y="214.88" width="5.53" height="5.53" fill="#fef0a8"/>
<rect x="155.74" y="214.88" width="5.53" height="5.53" fill="#ffffbf"/>
<rect x="161.22" y="214.88" width="11.01" height="5.53" fill="#fef0a8"/>
<rect x="172.18" y="214.88" width="5.53" height="5.53" fill="#ffffbf"/>
<rect x="177.66" y="214.88" width="5.53" height="5.53" fill="#fef0a8"/>
<rect x="183.14" y="214.88" width="5.53" height="5.53" fill="#ffffbf"/>
<rect x="188.62" y="214.88" width="11.01" height="5.53" fill="#fef0a8"/>
<rect x="199.58" y="214.88" width="5.53" height="5.53" fill="#ffffbf"/>
<rect x="205.06" y="214.88" width="5.53" height="5.53" fill="#fef0a8"/>
<rect x="210.54" y="214.88" width="11.01" height="5.53" fill="#ffffbf"/>
<rect x="221.50" y="214.88" width="11.01" height="5.53" fill="#fdb674"/>
<rect x="232.46" y="214.88" width="5.53" height="5.53" fill="#ffffbf"/>
<rect x="237.94" y="214.88" width="5.53" height="5.53" fill="#fee090"/>
<rect x="29.70" y="220.36" width="5.53" height="5.53" fill="#ffffbf"/>
<rect x="35.18" y="220.36" width="11.01" height="5.53" fill="#4575b4"/>
<rect x="46.14" y="220.36" width="5.53" height="5.53" fill="#f0f9dc"/>
<rect x="51.62" y="220.36" width="5.53" height="5.53" fill="#4575b4"/>
<rect x="57.10" y="220.36" width="11.01" height="5.53" fill="#f0f9dc"/>
<rect x="68.06" y="220.36" width="5.53" height="5.53" fill="#ffffbf"/>
<rect x="73.54" y="220.36" width="5.53" height="5.53" fill="#4575b4"/>
<rect x="79.02" y="220.36" width="5.53" height="5.53" fill="#f0f9dc"/>
<rect x="84.50" y="220.36" width="5.53" height="5.53" fill="#fdb674"/>
<rect x="89.98" y="220.36" width="5.53" height="5.53" fill="#fee090"/>
<rect x="95.46" y="220.36" width="16.49" height="5.53" fill="#fdb674"/>
<rect x="111.90" y="220.36" width="5.53" height="5.53" fill="#fee090"/>
<rect x="117.38" y="220.36" width="5.53" height="5.53" fill="#fc8d59"/>
<rect x="122.86" y="220.36" width="16.49" height="5.53" fill="#fdb674"/>
<rect x="139.30" y="220.36" width="5.53" height="5.53" fill="#f0f9dc"/>
<rect x="144.78" y="220.36" width="5.53" height="5.53" fill="#fef0a8"/>
<rect x="150.26" y="220.36" width="11.01" height="5.53" fill="#ffffbf"/>
<rect x="161.22" y="220.36" width="5.53" height="5.53" fill="#f0f9dc"/>
<rect x="166.70" y="220.36" width="5.53" height="5.53" fill="#fef0a8"/>
<rect x="172.18" y="220.36" width="5.53" height="5.53" fill="#f0f9dc"/>
<rect x="177.66" y="220.36" width="16.49" height="5.53" fill="#fdb674"/>
<rect x="194.10" y="220.36" width="5.53" height="5.53" fill="#fee090"/>
<rect x="199.58" y="220.36" width="5.53" height="5.53" fill="#fef0a8"/>
<rect x="205.06" y="220.36" width="5.53" height="5.53" fill="#ffffbf"/>
<rect x="210.54" y="220.36" width="11.01" height="5.53" fill="#fef0a8"/>
<rect x="221.50" y="220.36" width="5.53" height="5.53" fill="#fee090"/>
<rect x="226.98" y="220.36" width="5.53" height="5.53" fill="#fef0a8"/>
<rect x="232.46" y="220.36" width="5.53" height="5.53" fill="#ffffbf"/>
<rect x="237.94" y="220.36" width="5.53" height="5.53" fill="#fee090"/>
<rect x="29.70" y="225.84" width="54.85" height="5.53" fill="#4575b4"/>
<rect x="84.50" y="225.84" width="5.53" height="5.53" fill="#f0f9dc"/>
<rect x="89.98" y="225.84" width="5.53" height="5.53" fill="#e0f3f8"/>
<rect x="95.46" y="225.84" width="5.53" height="5.53" fill="#f0f9dc"/>
<rect x="100.94" y="225.84" width="5.53" height="5.53" fill="#ffffbf"/>
<rect x="106.42" y="225.84" width="5.53" height="5.53" fill="#f0f9dc"/>
<rect x="111.90" y="225.84" width="5.53" height="5.53" fill="#e0f3f8"/>
<rect x="117.38" y="225.84" width="5.53" height="5.53" fill="#4575b4"/>
<rect x="122.86" y="225.84" width="5.53" height="5.53" fill="#ffffbf"/>
<rect x="128.34" y="225.84" width="5.53" height="5.53" fill="#e0f3f8"/>
<rect x="133.82" y="225.84" width="5.53" height="5.53" fill="#f0f9dc"/>
<rect x="139.30" y="225.84" width="5.53" height="5.53" fill="#fee090"/>
<rect x="144.78" y="225.84" width="5.53" height="5.53" fill="#fef0a8"/>
<rect x="150.26" y="225.84" width="11.01" height="5.53" fill="#fee090"/>
<rect x="161.22" y="225.84" width="5.53" height="5.53" fill="#fef0a8"/>
<rect x="166.70" y="225.84" width="16.49" height="5.53" fill="#fee090"/>
<rect x="183.14" y="225.84" width="5.53" height="5.53" fill="#fef0a8"/>
<rect x="188.62" y="225.84" width="5.53" height="5.53" fill="#fee090"/>
<rect x="194.10" y="225.84" width="5.53" height="5.53" fill="#ffffbf"/>
<rect x="199.58" y="225.84" width="5.53" height="5.53" fill="#fee090"/>
<rect x="205.06" y="225.84" width="5.53" height="5.53" fill="#ffffbf"/>
<rect x="210.54" y="225.84" width="5.53" height="5.53" fill="#fef0a8"/>
<rect x="216.02" y="225.84" width="5.53" height="5.53" fill="#fee090"/>
<rect x="221.50" y="225.84" width="11.01" height="5.53" fill="#fef0a8"/>
<rect x="232.46" y="225.84" width="11.01" height="5.53" fill="#fee090"/>
<rect x="29.70" y="231.32" width="54.85" height="5.53" fill="#4575b4"/>
<rect x="84.50" y="231.32" width="11.01" height="5.53" fill="#fef0a8"/>
<rect x="95.46" y="231.32" width="5.53" height="5.53" fill="#ffffbf"/>
<rect x="100.94" y="231.32" width="5.53" height="5.53" fill="#fee090"/>
<rect x="106.42" y="231.32" width="11.01" height="5.53" fill="#fef0a8"/>
<rect x="117.38" y="231.32" width="5.53" height="5.53" fill="#f0f9dc"/>
<rect x="122.86" y="231.32" width="11.01" height="5.53" fill="#ffffbf"/>
<rect x="133.82" y="231.32" width="5.53" height="5.53" fill="#fef0a8"/>
<rect x="139.30" y="231.32" width="5.53" height="5.53" fill="#fdb674"/>
<rect x="144.78" y="231.32" width="5.53" height="5.53" fill="#ffffbf"/>
<rect x="150.26" y="231.32" width="5.53" height="5.53" fill="#fdb674"/>
<rect x="155.74" y="231.32" width="5.53" height="5.53" fill="#fc8d59"/>
<rect x="161.22" y="231.32" width="5.53" height="5.53" fill="#fdb674"/>
<rect x="166.70" y="231.32" width="5.53" height="5.53" fill="#fc8d59"/>
<rect x="172.18" y="231.32" width="5.53" height="5.53" fill="#fdb674"/>
<rect x="177.66" y="231.32" width="5.53" height="5.53" fill="#fee090"/>
<rect x="183.14" y="231.32" width="5.53" height="5.53" fill="#fdb674"/>
<rect x="188.62" y="231.32" width="5.53" height="5.53" fill="#fc8d59"/>
<rect x="194.10" y="231.32" width="11.01" height="5.53" fill="#fdb674"/>
<rect x="205.06" y="231.32" width="16.49" height="5.53" fill="#fee090"/>
<rect x="221.50" y="231.32" width="5.53" height="5.53" fill="#fdb674"/>
<rect x="226.98" y="231.32" width="11.01" height="5.53" fill="#fc8d59"/>
<rect x="237.94" y="231.32" width="5.53" height="5.53" fill="#fdb674"/>
<rect x="29.70" y="236.80" width="54.85" height="5.53" fill="#4575b4"/>
<rect x="84.50" y="236.80" width="5.53" height="5.53" fill="#fdb674"/>
<rect x="89.98" y="236.80" width="5.53" height="5.53" fill="#fee090"/>
<rect x="95.46" y="236.80" width="5.53" height="5.53" fill="#fef0a8"/>
<rect x="100.94" y="236.80" width="5.53" height="5.53" fill="#fee090"/>
<rect x="106.42" y="236.80" width="5.53" height="5.53" fill="#ffffbf"/>
<rect x="111.90" y="236.80" width="5.53" height="5.53" fill="#fee090"/>
<rect x="117.38" y="236.80" width="11.01" height="5.53" fill="#ffffbf"/>
<rect x="128.34" y="236.80" width="5.53" height="5.53" fill="#fee090"/>
<rect x="133.82" y="236.80" width="5.53" height="5.53" fill="#ffffbf"/>
<rect x="139.30" y="236.80" width="5.53" height="5.53" fill="#fee090"/>
<rect x="144.78" y="236.80" width="5.53" height="5.53" fill="#fef0a8"/>
<rect x="150.26" y="236.80" width="16.49" height="5.53" fill="#fee090"/>
<rect x="166.70" y="236.80" width="5.53" height="5.53" fill="#fdb674"/>
<rect x="172.18" y="236.80" width="5.53" height="5.53" fill="#fee090"/>
<rect x="177.66" y="236.80" width="11.01" height="5.53" fill="#fc8d59"/>
<rect x="188.62" y="236.80" width="5.53" height="5.53" fill="#fdb674"/>
<rect x="194.10" y="236.80" width="5.53" height="5.53" fill="#fee090"/>
<rect x="199.58" y="236.80" width="5.53" height="5.53" fill="#fef0a8"/>
<rect x="205.06" y="236.80" width="16.49" height="5.53" fill="#fee090"/>
<rect x="221.50" y="236.80" width="11.01" height="5.53" fill="#fdb674"/>
<rect x="232.46" y="236.80" width="5.53" height="5.53" fill="#fef0a8"/>
<rect x="237.94" y="236.80" width="5.53" height="5.53" fill="#fee090"/>
<rect x="29.70" y="242.28" width="38.41" height="5.53" fill="#4575b4"/>
<rect x="68.06" y="242.28" width="5.53" height="5.53" fill="#f0f9dc"/>
<rect x="73.54" y="242.28" width="11.01" height="5.53" fill="#4575b4"/>
<rect x="84.50" y="242.28" width="5.53" height="5.53" fill="#ffffbf"/>
<rect x="89.98" y="242.28" width="5.53" height="5.53" fill="#f0f9dc"/>
<rect x="95.46" y="242.28" width="11.01" height="5.53" fill="#fee090"/>
<rect x="106.42" y="242.28" width="5.53" height="5.53" fill="#fc8d59"/>
<rect x="111.90" y="242.28" width="5.53" height="5.53" fill="#fee090"/>
<rect x="117.38" y="242.28" width="5.53" height="5.53" fill="#fc8d59"/>
<rect x="122.86" y="242.28" width="11.01" height="5.53" fill="#fdb674"/>
<rect x="133.82" y="242.28" width="5.53" height="5.53" fill="#fee090"/>
<rect x="139.30" y="242.28" width="5.53" height="5.53" fill="#ffffbf"/>
<rect x="144.78" y="242.28" width="5.53" height="5.53" fill="#fee090"/>
<rect x="150.26" y="242.28" width="5.53" height="5.53" fill="#f0f9dc"/>
<rect x="155.74" y="242.28" width="5.53" height="5.53" fill="#fdb674"/>
<rect x="161.22" y="242.28" width="5.53" height="5.53" fill="#ffffbf"/>
<rect x="166.70" y="242.28" width="5.53" height="5.53" fill="#4575b4"/>
<rect x="172.18" y="242.28" width="5.53" height="5.53" fill="#f0f9dc"/>
<rect x="177.66" y="242.28" width="5.53" height="5.53" fill="#fef0a8"/>
<rect x="183.14" y="242.28" width="5.53" height="5.53" fill="#ffffbf"/>
<rect x="188.62" y="242.28" width="5.53" height="5.53" fill="#f0f9dc"/>
<rect x="194.10" y="242.28" width="5.53" height="5.53" fill="#ffffbf"/>
<rect x="199.58" y="242.28" width="11.01" height="5.53" fill="#fef0a8"/>
<rect x="210.54" y="242.28" width="5.53" height="5.53" fill="#fee090"/>
<rect x="216.02" y="242.28" width="5.53" height="5.53" fill="#ffffbf"/>
<rect x="221.50" y="242.28" width="5.53" height="5.53" fill="#4575b4"/>
<rect x="226.98" y="242.28" width="5.53" height="5.53" fill="#f0f9dc"/>
<rect x="232.46" y="242.28" width="5.53" height="5.53" fill="#4575b4"/>
<rect x="237.94" y="242.28" width="5.53" height="5.53" fill="#fef0a8"/>
<rect x="29.70" y="247.76" width="5.53" height="5.53" fill="#f0f9dc"/>
<rect x="35.18" y="247.76" width="11.01" height="5.53" fill="#4575b4"/>
<rect x="46.14" y="247.76" width="16.49" height="5.53" fill="#f0f9dc"/>
<rect x="62.58" y="247.76" width="21.97" height="5.53" fill="#4575b4"/>
<rect x="84.50" y="247.76" width="11.01" height="5.53" fill="#ffffbf"/>
<rect x="95.46" y="247.76" width="5.53" height="5.53" fill="#fef0a8"/>
<rect x="100.94" y="247.76" width="5.53" height="5.53" fill="#fee090"/>
<rect x="106.42" y="247.76" width="5.53" height="5.53" fill="#fdb674"/>
<rect x="111.90" y="247.76" width="5.53" height="5.53" fill="#ffffbf"/>
<rect x="117.38" y="247.76" width="5.53" height="5.53" fill="#fdb674"/>
<rect x="122.86" y="247.76" width="5.53" height="5.53" fill="#fee090"/>
<rect x="128.34" y="247.76" width="11.01" height="5.53" fill="#fdb674"/>
<rect x="139.30" y="247.76" width="5.53" height="5.53" fill="#ffffbf"/>
<rect x="144.78" y="247.76" width="5.53" height="5.53" fill="#f0f9dc"/>
<rect x="150.26" y="247.76" width="16.49" height="5.53" fill="#fef0a8"/>
<rect x="166.70" y="247.76" width="5.53" height="5.53" fill="#f0f9dc"/>
<rect x="172.18" y="247.76" width="5.53" height="5.53" fill="#fef0a8"/>
<rect x="177.66" y="247.76" width="5.53" height="5.53" fill="#e0f3f8"/>
<rect x="183.14" y="247.76" width="5.53" height="5.53" fill="#f0f9dc"/>
<rect x="188.62" y="247.76" width="5.53" height="5.53" fill="#fef0a8"/>
<rect x="194.10" y="247.76" width="5.53" height="5.53" fill="#ffffbf"/>
<rect x="199.58" y="247.76" width="11.01" height="5.53" fill="#f0f9dc"/>
<rect x="210.54" y="247.76" width="11.01" height="5.53" fill="#fee090"/>
<rect x="221.50" y="247.76" width="5.53" height="5.53" fill="#b8d9ea"/>
<rect x="226.98" y="247.76" width="5.53" height="5.53" fill="#4575b4"/>
<rect x="232.46" y="247.76" width="5.53" height="5.53" fill="#f0f9dc"/>
<rect x="237.94" y="247.76" width="5.53" height="5.53" fill="#fef0a8"/>
<rect x="29.70" y="253.24" width="54.85" height="5.53" fill="#4575b4"/>
<rect x="84.50" y="253.24" width="5.53" height="5.53" fill="#fdb674"/>
<rect x="89.98" y="253.24" width="5.53" height="5.53" fill="#fee090"/>
<rect x="95.46" y="253.24" width="5.53" height="5.53" fill="#ffffbf"/>
<rect x="100.94" y="253.24" width="5.53" height="5.53" fill="#f0f9dc"/>
<rect x="106.42" y="253.24" width="11.01" height="5.53" fill="#fee090"/>
<rect x="117.38" y="253.24" width="5.53" height="5.53" fill="#fc8d59"/>
<rect x="122.86" y="253.24" width="5.53" height="5.53" fill="#fee090"/>
<rect x="128.34" y="253.24" width="5.53" height="5.53" fill="#ea5e40"/>
<rect x="133.82" y="253.24" width="5.53" height="5.53" fill="#fc8d59"/>
<rect x="139.30" y="253.24" width="5.53" height="5.53" fill="#fef0a8"/>
<rect x="144.78" y="253.24" width="5.53" height="5.53" fill="#ffffbf"/>
<rect x="150.26" y="253.24" width="5.53" height="5.53" fill="#fee090"/>
<rect x="155.74" y="253.24" width="5.53" height="5.53" fill="#e0f3f8"/>
<rect x="161.22" y="253.24" width="5.53" height="5.53" fill="#f0f9dc"/>
<rect x="166.70" y="253.24" width="5.53" height="5.53" fill="#ffffbf"/>
<rect x="172.18" y="253.24" width="11.01" height="5.53" fill="#f0f9dc"/>
<rect x="183.14" y="253.24" width="27.45" height="5.53" fill="#ffffbf"/>
<rect x="210.54" y="253.24" width="5.53" height="5.53" fill="#fef0a8"/>
<rect x="216.02" y="253.24" width="5.53" height="5.53" fill="#ffffbf"/>
<rect x="221.50" y="253.24" width="5.53" height="5.53" fill="#fef0a8"/>
<rect x="226.98" y="253.24" width="5.53" height="5.53" fill="#fee090"/>
<rect x="232.46" y="253.24" width="5.53" height="5.53" fill="#fef0a8"/>
<rect x="237.94" y="253.24" width="5.53" height="5.53" fill="#fee090"/>
<rect x="29.70" y="258.72" width="21.97" height="5.53" fill="#4575b4"/>
<rect x="51.62" y="258.72" width="5.53" height="5.53" fill="#f0f9dc"/>
<rect x="57.10" y="258.72" width="5.53" height="5.53" fill="#e0f3f8"/>
<rect x="62.58" y="258.72" width="21.97" height="5.53" fill="#4575b4"/>
<rect x="84.50" y="258.72" width="5.53" height="5.53" fill="#ffffbf"/>
<rect x="89.98" y="258.72" width="5.53" height="5.53" fill="#fdb674"/>
<rect x="95.46" y="258.72" width="5.53" height="5.53" fill="#fee090"/>
<rect x="100.94" y="258.72" width="5.53" height="5.53" fill="#fc8d59"/>
<rect x="106.42" y="258.72" width="11.01" height="5.53" fill="#fee090"/>
<rect x="117.38" y="258.72" width="5.53" height="5.53" fill="#ffffbf"/>
<rect x="122.86" y="258.72" width="5.53" height="5.53" fill="#e0f3f8"/>
<rect x="128.34" y="258.72" width="5.53" height="5.53" fill="#ffffbf"/>
<rect x="133.82" y="258.72" width="5.53" height="5.53" fill="#fee090"/>
<rect x="139.30" y="258.72" width="5.53" height="5.53" fill="#fef0a8"/>
<rect x="144.78" y="258.72" width="5.53" height="5.53" fill="#f0f9dc"/>
<rect x="150.26" y="258.72" width="11.01" height="5.53" fill="#fef0a8"/>
<rect x="161.22" y="258.72" width="5.53" height="5.53" fill="#fdb674"/>
<rect x="166.70" y="258.72" width="5.53" height="5.53" fill="#ffffbf"/>
<rect x="172.18" y="258.72" width="5.53" height="5.53" fill="#fef0a8"/>
<rect x="177.66" y="258.72" width="16.49" height="5.53" fill="#ffffbf"/>
<rect x="194.10" y="258.72" width="5.53" height="5.53" fill="#f0f9dc"/>
<rect x="199.58" y="258.72" width="5.53" height="5.53" fill="#ffffbf"/>
<rect x="205.06" y="258.72" width="5.53" height="5.53" fill="#e0f3f8"/>
<rect x="210.54" y="258.72" width="11.01" height="5.53" fill="#ffffbf"/>
<rect x="221.50" y="258.72" width="5.53" height="5.53" fill="#fee090"/>
<rect x="226.98" y="258.72" width="5.53" height="5.53" fill="#fef0a8"/>
<rect x="232.46" y="258.72" width="5.53" height="5.53" fill="#ffffbf"/>
<rect x="237.94" y="258.72" width="5.53" height="5.53" fill="#fee090"/>
<rect x="29.70" y="264.20" width="54.85" height="5.53" fill="#4575b4"/>
<rect x="84.50" y="264.20" width="5.53" height="5.53" fill="#fee090"/>
<rect x="89.98" y="264.20" width="5.53" height="5.53" fill="#fdb674"/>
<rect x="95.46" y="264.20" width="5.53" height="5.53" fill="#fee090"/>
<rect x="100.94" y="264.20" width="11.01" height="5.53" fill="#fdb674"/>
<rect x="111.90" y="264.20" width="16.49" height="5.53" fill="#fee090"/>
<rect x="128.34" y="264.20" width="5.53" height="5.53" fill="#fef0a8"/>
<rect x="133.82" y="264.20" width="5.53" height="5.53" fill="#fee090"/>
<rect x="139.30" y="264.20" width="5.53" height="5.53" fill="#f0f9dc"/>
<rect x="144.78" y="264.20" width="5.53" height="5.53" fill="#e0f3f8"/>
<rect x="150.26" y="264.20" width="5.53" height="5.53" fill="#ffffbf"/>
<rect x="155.74" y="264.20" width="5.53" height="5.53" fill="#fdb674"/>
<rect x="161.22" y="264.20" width="5.53" height="5.53" fill="#ea5e40"/>
<rect x="166.70" y="264.20" width="5.53" height="5.53" fill="#e0f3f8"/>
<rect x="172.18" y="264.20" width="11.01" height="5.53" fill="#ffffbf"/>
<rect x="183.14" y="264.20" width="5.53" height="5.53" fill="#f0f9dc"/>
<rect x="188.62" y="264.20" width="5.53" height="5.53" fill="#e0f3f8"/>
<rect x="194.10" y="264.20" width="5.53" height="5.53" fill="#6b9ac8"/>
<rect x="199.58" y="264.20" width="11.01" height="5.53" fill="#ffffbf"/>
<rect x="210.54" y="264.20" width="5.53" height="5.53" fill="#f0f9dc"/>
<rect x="216.02" y="264.20" width="5.53" height="5.53" fill="#ffffbf"/>
<rect x="221.50" y="264.20" width="5.53" height="5.53" fill="#fef0a8"/>
<rect x="226.98" y="264.20" width="5.53" height="5.53" fill="#ffffbf"/>
<rect x="232.46" y="264.20" width="5.53" height="5.53" fill="#fef0a8"/>
<rect x="237.94" y="264.20" width="5.53" height="5.53" fill="#fee090"/>
<rect x="29.70" y="269.68" width="54.85" height="5.53" fill="#4575b4"/>
<rect x="84.50" y="269.68" width="5.53" height="5.53" fill="#fee090"/>
<rect x="89.98" y="269.68" width="5.53" height="5.53" fill="#fef0a8"/>
<rect x="95.46" y="269.68" width="5.53" height="5.53" fill="#ffffbf"/>
<rect x="100.94" y="269.68" width="16.49" height="5.53" fill="#fdb674"/>
<rect x="117.38" y="269.68" width="16.49" height="5.53" fill="#fef0a8"/>
<rect x="133.82" y="269.68" width="5.53" height="5.53" fill="#fee090"/>
<rect x="139.30" y="269.68" width="5.53" height="5.53" fill="#ffffbf"/>
<rect x="144.78" y="269.68" width="5.53" height="5.53" fill="#e0f3f8"/>
<rect x="150.26" y="269.68" width="5.53" height="5.53" fill="#ffffbf"/>
<rect x="155.74" y="269.68" width="5.53" height="5.53" fill="#fef0a8"/>
<rect x="161.22" y="269.68" width="11.01" height="5.53" fill="#ffffbf"/>
<rect x="172.18" y="269.68" width="5.53" height="5.53" fill="#fef0a8"/>
<rect x="177.66" y="269.68" width="5.53" height="5.53" fill="#ffffbf"/>
<rect x="183.14" y="269.68" width="5.53" height="5.53" fill="#f0f9dc"/>
<rect x="188.62" y="269.68" width="5.53" height="5.53" fill="#ffffbf"/>
<rect x="194.10" y="269.68" width="5.53" height="5.53" fill="#f0f9dc"/>
<rect x="199.58" y="269.68" width="11.01" height="5.53" fill="#ffffbf"/>
<rect x="210.54" y="269.68" width="5.53" height="5.53" fill="#f0f9dc"/>
<rect x="216.02" y="269.68" width="11.01" height="5.53" fill="#ffffbf"/>
<rect x="226.98" y="269.68" width="5.53" height="5.53" fill="#e0f3f8"/>
<rect x="232.46" y="269.68" width="11.01" height="5.53" fill="#ffffbf"/>
<rect x="29.70" y="275.16" width="54.85" height="5.53" fill="#4575b4"/>
<rect x="84.50" y="275.16" width="5.53" height="5.53" fill="#fee090"/>
<rect x="89.98" y="275.16" width="11.01" height="5.53" fill="#fdb674"/>
<rect x="100.94" y="275.16" width="16.49" height="5.53" fill="#fee090"/>
<rect x="117.38" y="275.16" width="21.97" height="5.53" fill="#fef0a8"/>
<rect x="139.30" y="275.16" width="5.53" height="5.53" fill="#e0f3f8"/>
<rect x="144.78" y="275.16" width="5.53" height="5.53" fill="#f0f9dc"/>
<rect x="150.26" y="275.16" width="43.89" height="5.53" fill="#ffffbf"/>
<rect x="194.10" y="275.16" width="32.93" height="5.53" fill="#f0f9dc"/>
<rect x="226.98" y="275.16" width="16.49" height="5.53" fill="#ffffbf"/>
<rect x="29.70" y="280.64" width="5.53" height="5.53" fill="#fee090"/>
<rect x="35.18" y="280.64" width="5.53" height="5.53" fill="#fdb674"/>
<rect x="40.66" y="280.64" width="5.53" height="5.53" fill="#fee090"/>
<rect x="46.14" y="280.64" width="11.01" height="5.53" fill="#fdb674"/>
<rect x="57.10" y="280.64" width="11.01" height="5.53" fill="#fee090"/>
<rect x="68.06" y="280.64" width="5.53" height="5.53" fill="#fdb674"/>
<rect x="73.54" y="280.64" width="21.97" height="5.53" fill="#fee090"/>
<rect x="95.46" y="280.64" width="5.53" height="5.53" fill="#fef0a8"/>
<rect x="100.94" y="280.64" width="5.53" height="5.53" fill="#fee090"/>
<rect x="106.42" y="280.64" width="16.49" height="5.53" fill="#fef0a8"/>
<rect x="122.86" y="280.64" width="16.49" height="5.53" fill="#fee090"/>
<rect x="139.30" y="280.64" width="5.53" height="5.53" fill="#fc8d59"/>
<rect x="144.78" y="280.64" width="16.49" height="5.53" fill="#fee090"/>
<rect x="161.22" y="280.64" width="5.53" height="5.53" fill="#fef0a8"/>
<rect x="166.70" y="280.64" width="32.93" height="5.53" fill="#fee090"/>
<rect x="199.58" y="280.64" width="11.01" height="5.53" fill="#fef0a8"/>
<rect x="210.54" y="280.64" width="5.53" height="5.53" fill="#ffffbf"/>
<rect x="216.02" y="280.64" width="5.53" height="5.53" fill="#fef0a8"/>
<rect x="221.50" y="280.64" width="16.49" height="5.53" fill="#fee090"/>
<rect x="237.94" y="280.64" width="5.53" height="5.53" fill="#fdb674"/>
<rect x="29.70" y="286.12" width="5.53" height="5.53" fill="#fee090"/>
<rect x="35.18" y="286.12" width="5.53" height="5.53" fill="#fc8d59"/>
<rect x="40.66" y="286.12" width="5.53" height="5.53" fill="#e0f3f8"/>
<rect x="46.14" y="286.12" width="5.53" height="5.53" fill="#fef0a8"/>
<rect x="51.62" y="286.12" width="5.53" height="5.53" fill="#fee090"/>
<rect x="57.10" y="286.12" width="11.01" height="5.53" fill="#fc8d59"/>
<rect x="68.06" y="286.12" width="5.53" height="5.53" fill="#ea5e40"/>
<rect x="73.54" y="286.12" width="5.53" height="5.53" fill="#fdb674"/>
<rect x="79.02" y="286.12" width="16.49" height="5.53" fill="#fee090"/>
<rect x="95.46" y="286.12" width="5.53" height="5.53" fill="#fef0a8"/>
<rect x="100.94" y="286.12" width="5.53" height="5.53" fill="#fdb674"/>
<rect x="106.42" y="286.12" width="11.01" height="5.53" fill="#fef0a8"/>
<rect x="117.38" y="286.12" width="5.53" height="5.53" fill="#fee090"/>
<rect x="122.86" y="286.12" width="5.53" height="5.53" fill="#fef0a8"/>
<rect x="128.34" y="286.12" width="11.01" height="5.53" fill="#fee090"/>
<rect x="139.30" y="286.12" width="5.53" height="5.53" fill="#fc8d59"/>
<rect x="144.78" y="286.12" width="5.53" height="5.53" fill="#fdb674"/>
<rect x="150.26" y="286.12" width="5.53" height="5.53" fill="#fee090"/>
<rect x="155.74" y="286.12" width="5.53" height="5.53" fill="#fef0a8"/>
<rect x="161.22" y="286.12" width="16.49" height="5.53" fill="#fc8d59"/>
<rect x="177.66" y="286.12" width="11.01" height="5.53" fill="#fef0a8"/>
<rect x="188.62" y="286.12" width="5.53" height="5.53" fill="#fee090"/>
<rect x="194.10" y="286.12" width="5.53" height="5.53" fill="#ffffbf"/>
<rect x="199.58" y="286.12" width="11.01" height="5.53" fill="#fdb674"/>
<rect x="210.54" y="286.12" width="5.53" height="5.53" fill="#fef0a8"/>
<rect x="216.02" y="286.12" width="5.53" height="5.53" fill="#fdb674"/>
<rect x="221.50" y="286.12" width="11.01" height="5.53" fill="#fee090"/>
<rect x="232.46" y="286.12" width="5.53" height="5.53" fill="#fdb674"/>
<rect x="237.94" y="286.12" width="5.53" height="5.53" fill="#fee090"/>
<rect x="29.70" y="291.60" width="5.53" height="5.53" fill="#f0f9dc"/>
<rect x="35.18" y="291.60" width="5.53" height="5.53" fill="#ffffbf"/>
<rect x="40.66" y="291.60" width="16.49" height="5.53" fill="#fee090"/>
<rect x="57.10" y="291.60" width="5.53" height="5.53" fill="#fdb674"/>
<rect x="62.58" y="291.60" width="5.53" height="5.53" fill="#fee090"/>
<rect x="68.06" y="291.60" width="11.01" height="5.53" fill="#ffffbf"/>
<rect x="79.02" y="291.60" width="5.53" height="5.53" fill="#fee090"/>
<rect x="84.50" y="291.60" width="5.53" height="5.53" fill="#ffffbf"/>
<rect x="89.98" y="291.60" width="11.01" height="5.53" fill="#f0f9dc"/>
<rect x="100.94" y="291.60" width="5.53" height="5.53" fill="#fef0a8"/>
<rect x="106.42" y="291.60" width="11.01" height="5.53" fill="#ffffbf"/>
<rect x="117.38" y="291.60" width="5.53" height="5.53" fill="#4575b4"/>
<rect x="122.86" y="291.60" width="5.53" height="5.53" fill="#ffffbf"/>
<rect x="128.34" y="291.60" width="5.53" height="5.53" fill="#e0f3f8"/>
<rect x="133.82" y="291.60" width="16.49" height="5.53" fill="#ffffbf"/>
<rect x="150.26" y="291.60" width="5.53" height="5.53" fill="#fef0a8"/>
<rect x="155.74" y="291.60" width="21.97" height="5.53" fill="#ffffbf"/>
<rect x="177.66" y="291.60" width="5.53" height="5.53" fill="#f0f9dc"/>
<rect x="183.14" y="291.60" width="5.53" height="5.53" fill="#ffffbf"/>
<rect x="188.62" y="291.60" width="5.53" height="5.53" fill="#fef0a8"/>
<rect x="194.10" y="291.60" width="21.97" height="5.53" fill="#ffffbf"/>
<rect x="216.02" y="291.60" width="5.53" height="5.53" fill="#fef0a8"/>
<rect x="221.50" y="291.60" width="11.01" height="5.53" fill="#ffffbf"/>
<rect x="232.46" y="291.60" width="11.01" height="5.53" fill="#fef0a8"/>
<rect x="29.70" y="297.08" width="5.53" height="5.53" fill="#fee090"/>
<rect x="35.18" y="297.08" width="5.53" height="5.53" fill="#fdb674"/>
<rect x="40.66" y="297.08" width="11.01" height="5.53" fill="#fee090"/>
<rect x="51.62" y="297.08" width="11.01" height="5.53" fill="#fdb674"/>
<rect x="62.58" y="297.08" width="11.01" height="5.53" fill="#fee090"/>
<rect x="73.54" y="297.08" width="5.53" height="5.53" fill="#fdb674"/>
<rect x="79.02" y="297.08" width="5.53" height="5.53" fill="#fee090"/>
<rect x="84.50" y="297.08" width="11.01" height="5.53" fill="#ffffbf"/>
<rect x="95.46" y="297.08" width="5.53" height="5.53" fill="#fee090"/>
<rect x="100.94" y="297.08" width="5.53" height="5.53" fill="#ffffbf"/>
<rect x="106.42" y="297.08" width="5.53" height="5.53" fill="#f0f9dc"/>
<rect x="111.90" y="297.08" width="5.53" height="5.53" fill="#ffffbf"/>
<rect x="117.38" y="297.08" width="21.97" height="5.53" fill="#4575b4"/>
<rect x="139.30" y="297.08" width="16.49" height="5.53" fill="#ffffbf"/>
<rect x="155.74" y="297.08" width="11.01" height="5.53" fill="#fdb674"/>
<rect x="166.70" y="297.08" width="21.97" height="5.53" fill="#fee090"/>
<rect x="188.62" y="297.08" width="5.53" height="5.53" fill="#fdb674"/>
<rect x="194.10" y="297.08" width="5.53" height="5.53" fill="#fee090"/>
<rect x="199.58" y="297.08" width="5.53" height="5.53" fill="#fdb674"/>
<rect x="205.06" y="297.08" width="11.01" height="5.53" fill="#ffffbf"/>
<rect x="216.02" y="297.08" width="11.01" height="5.53" fill="#fef0a8"/>
<rect x="226.98" y="297.08" width="16.49" height="5.53" fill="#fee090"/>
<rect x="29.70" y="302.56" width="5.53" height="5.53" fill="#f0f9dc"/>
<rect x="35.18" y="302.56" width="5.53" height="5.53" fill="#e0f3f8"/>
<rect x="40.66" y="302.56" width="5.53" height="5.53" fill="#f0f9dc"/>
<rect x="46.14" y="302.56" width="11.01" height="5.53" fill="#ffffbf"/>
<rect x="57.10" y="302.56" width="5.53" height="5.53" fill="#f0f9dc"/>
<rect x="62.58" y="302.56" width="5.53" height="5.53" fill="#4575b4"/>
<rect x="68.06" y="302.56" width="5.53" height="5.53" fill="#e0f3f8"/>
<rect x="73.54" y="302.56" width="11.01" height="5.53" fill="#ffffbf"/>
<rect x="84.50" y="302.56" width="54.85" height="5.53" fill="#4575b4"/>
<rect x="139.30" y="302.56" width="5.53" height="5.53" fill="#fdb674"/>
<rect x="144.78" y="302.56" width="11.01" height="5.53" fill="#e0f3f8"/>
<rect x="155.74" y="302.56" width="5.53" height="5.53" fill="#ffffbf"/>
<rect x="161.22" y="302.56" width="5.53" height="5.53" fill="#fee090"/>
<rect x="166.70" y="302.56" width="5.53" height="5.53" fill="#e0f3f8"/>
<rect x="172.18" y="302.56" width="5.53" height="5.53" fill="#ffffbf"/>
<rect x="177.66" y="302.56" width="5.53" height="5.53" fill="#e0f3f8"/>
<rect x="183.14" y="302.56" width="5.53" height="5.53" fill="#91bfdb"/>
<rect x="188.62" y="302.56" width="5.53" height="5.53" fill="#b8d9ea"/>
<rect x="194.10" y="302.56" width="5.53" height="5.53" fill="#4575b4"/>
<rect x="199.58" y="302.56" width="5.53" height="5.53" fill="#e0f3f8"/>
<rect x="205.06" y="302.56" width="5.53" height="5.53" fill="#91bfdb"/>
<rect x="210.54" y="302.56" width="11.01" height="5.53" fill="#e0f3f8"/>
<rect x="221.50" y="302.56" width="5.53" height="5.53" fill="#91bfdb"/>
<rect x="226.98" y="302.56" width="5.53" height="5.53" fill="#4575b4"/>
<rect x="232.46" y="302.56" width="5.53" height="5.53" fill="#f0f9dc"/>
<rect x="237.94" y="302.56" width="5.53" height="5.53" fill="#ffffbf"/>
<rect x="29.70" y="308.04" width="5.53" height="5.53" fill="#fc8d59"/>
<rect x="35.18" y="308.04" width="5.53" height="5.53" fill="#fdb674"/>
<rect x="40.66" y="308.04" width="5.53" height="5.53" fill="#fc8d59"/>
<rect x="46.14" y="308.04" width="5.53" height="5.53" fill="#fdb674"/>
<rect x="51.62" y="308.04" width="5.53" height="5.53" fill="#fc8d59"/>
<rect x="57.10" y="308.04" width="5.53" height="5.53" fill="#ffffbf"/>
<rect x="62.58" y="308.04" width="5.53" height="5.53" fill="#fee090"/>
<rect x="68.06" y="308.04" width="5.53" height="5.53" fill="#ea5e40"/>
<rect x="73.54" y="308.04" width="11.01" height="5.53" fill="#fc8d59"/>
<rect x="84.50" y="308.04" width="54.85" height="5.53" fill="#4575b4"/>
<rect x="139.30" y="308.04" width="5.53" height="5.53" fill="#ea5e40"/>
<rect x="144.78" y="308.04" width="5.53" height="5.53" fill="#f0f9dc"/>
<rect x="150.26" y="308.04" width="5.53" height="5.53" fill="#fef0a8"/>
<rect x="155.74" y="308.04" width="5.53" height="5.53" fill="#fee090"/>
<rect x="161.22" y="308.04" width="5.53" height="5.53" fill="#fdb674"/>
<rect x="166.70" y="308.04" width="5.53" height="5.53" fill="#ffffbf"/>
<rect x="172.18" y="308.04" width="5.53" height="5.53" fill="#f0f9dc"/>
<rect x="177.66" y="308.04" width="5.53" height="5.53" fill="#4575b4"/>
<rect x="183.14" y="308.04" width="5.53" height="5.53" fill="#fee090"/>
<rect x="188.62" y="308.04" width="16.49" height="5.53" fill="#4575b4"/>
<rect x="205.06" y="308.04" width="16.49" height="5.53" fill="#ffffbf"/>
<rect x="221.50" y="308.04" width="5.53" height="5.53" fill="#fdb674"/>
<rect x="226.98" y="308.04" width="5.53" height="5.53" fill="#ffffbf"/>
<rect x="232.46" y="308.04" width="5.53" height="5.53" fill="#f0f9dc"/>
<rect x="237.94" y="308.04" width="5.53" height="5.53" fill="#ffffbf"/>
<rect x="29.70" y="313.52" width="21.97" height="5.53" fill="#fee090"/>
<rect x="51.62" y="313.52" width="16.49" height="5.53" fill="#fdb674"/>
<rect x="68.06" y="313.52" width="5.53" height="5.53" fill="#fee090"/>
<rect x="73.54" y="313.52" width="11.01" height="5.53" fill="#fdb674"/>
<rect x="84.50" y="313.52" width="71.29" height="5.53" fill="#4575b4"/>
<rect x="155.74" y="313.52" width="11.01" height="5.53" fill="#fdb674"/>
<rect x="166.70" y="313.52" width="21.97" height="5.53" fill="#fee090"/>
<rect x="188.62" y="313.52" width="5.53" height="5.53" fill="#fdb674"/>
<rect x="194.10" y="313.52" width="5.53" height="5.53" fill="#fee090"/>
<rect x="199.58" y="313.52" width="5.53" height="5.53" fill="#fdb674"/>
<rect x="205.06" y="313.52" width="5.53" height="5.53" fill="#4575b4"/>
<rect x="210.54" y="313.52" width="5.53" height="5.53" fill="#ffffbf"/>
<rect x="216.02" y="313.52" width="5.53" height="5.53" fill="#fef0a8"/>
<rect x="221.50" y="313.52" width="21.97" height="5.53" fill="#4575b4"/>
<rect x="29.70" y="319.00" width="5.53" height="5.53" fill="#fdb674"/>
<rect x="35.18" y="319.00" width="5.53" height="5.53" fill="#fc8d59"/>
<rect x="40.66" y="319.00" width="11.01" height="5.53" fill="#fdb674"/>
<rect x="51.62" y="319.00" width="5.53" height="5.53" fill="#ea5e40"/>
<rect x="57.10" y="319.00" width="5.53" height="5.53" fill="#fc8d59"/>
<rect x="62.58" y="319.00" width="5.53" height="5.53" fill="#fdb674"/>
<rect x="68.06" y="319.00" width="5.53" height="5.53" fill="#fc8d59"/>
<rect x="73.54" y="319.00" width="5.53" height="5.53" fill="#ea5e40"/>
<rect x="79.02" y="319.00" width="5.53" height="5.53" fill="#fc8d59"/>
<rect x="84.50" y="319.00" width="71.29" height="5.53" fill="#4575b4"/>
<rect x="155.74" y="319.00" width="11.01" height="5.53" fill="#ea5e40"/>
<rect x="166.70" y="319.00" width="16.49" height="5.53" fill="#fc8d59"/>
<rect x="183.14" y="319.00" width="5.53" height="5.53" fill="#fdb674"/>
<rect x="188.62" y="319.00" width="11.01" height="5.53" fill="#fc8d59"/>
<rect x="199.58" y="319.00" width="5.53" height="5.53" fill="#ea5e40"/>
<rect x="205.06" y="319.00" width="5.53" height="5.53" fill="#fee090"/>
<rect x="210.54" y="319.00" width="16.49" height="5.53" fill="#fdb674"/>
<rect x="226.98" y="319.00" width="16.49" height="5.53" fill="#fc8d59"/>
<rect x="29.70" y="324.48" width="11.01" height="5.53" fill="#fee090"/>
<rect x="40.66" y="324.48" width="5.53" height="5.53" fill="#fdb674"/>
<rect x="46.14" y="324.48" width="5.53" height="5.53" fill="#ffffbf"/>
<rect x="51.62" y="324.48" width="5.53" height="5.53" fill="#fee090"/>
<rect x="57.10" y="324.48" width="5.53" height="5.53" fill="#fdb674"/>
<rect x="62.58" y="324.48" width="16.49" height="5.53" fill="#ffffbf"/>
<rect x="79.02" y="324.48" width="5.53" height="5.53" fill="#fee090"/>
<rect x="84.50" y="324.48" width="54.85" height="5.53" fill="#4575b4"/>
<rect x="139.30" y="324.48" width="5.53" height="5.53" fill="#ffffbf"/>
<rect x="144.78" y="324.48" width="5.53" height="5.53" fill="#fc8d59"/>
<rect x="150.26" y="324.48" width="5.53" height="5.53" fill="#ffffbf"/>
<rect x="155.74" y="324.48" width="11.01" height="5.53" fill="#fdb674"/>
<rect x="166.70" y="324.48" width="11.01" height="5.53" fill="#ffffbf"/>
<rect x="177.66" y="324.48" width="5.53" height="5.53" fill="#ea5e40"/>
<rect x="183.14" y="324.48" width="5.53" height="5.53" fill="#fee090"/>
<rect x="188.62" y="324.48" width="5.53" height="5.53" fill="#ffffbf"/>
<rect x="194.10" y="324.48" width="5.53" height="5.53" fill="#fee090"/>
<rect x="199.58" y="324.48" width="11.01" height="5.53" fill="#fdb674"/>
<rect x="210.54" y="324.48" width="5.53" height="5.53" fill="#fee090"/>
<rect x="216.02" y="324.48" width="11.01" height="5.53" fill="#fdb674"/>
<rect x="226.98" y="324.48" width="5.53" height="5.53" fill="#fee090"/>
<rect x="232.46" y="324.48" width="5.53" height="5.53" fill="#fdb674"/>
<rect x="237.94" y="324.48" width="5.53" height="5.53" fill="#fee090"/>
<rect x="29.70" y="329.96" width="5.53" height="5.53" fill="#f0f9dc"/>
<rect x="35.18" y="329.96" width="5.53" height="5.53" fill="#fdb674"/>
<rect x="40.66" y="329.96" width="5.53" height="5.53" fill="#ffffbf"/>
<rect x="46.14" y="329.96" width="5.53" height="5.53" fill="#fee090"/>
<rect x="51.62" y="329.96" width="11.01" height="5.53" fill="#fdb674"/>
<rect x="62.58" y="329.96" width="5.53" height="5.53" fill="#f0f9dc"/>
<rect x="68.06" y="329.96" width="5.53" height="5.53" fill="#fee090"/>
<rect x="73.54" y="329.96" width="5.53" height="5.53" fill="#fdb674"/>
<rect x="79.02" y="329.96" width="5.53" height="5.53" fill="#fee090"/>
<rect x="84.50" y="329.96" width="54.85" height="5.53" fill="#4575b4"/>
<rect x="139.30" y="329.96" width="5.53" height="5.53" fill="#fee090"/>
<rect x="144.78" y="329.96" width="5.53" height="5.53" fill="#4575b4"/>
<rect x="150.26" y="329.96" width="5.53" height="5.53" fill="#ffffbf"/>
<rect x="155.74" y="329.96" width="5.53" height="5.53" fill="#fee090"/>
<rect x="161.22" y="329.96" width="5.53" height="5.53" fill="#fc8d59"/>
<rect x="166.70" y="329.96" width="5.53" height="5.53" fill="#f0f9dc"/>
<rect x="172.18" y="329.96" width="5.53" height="5.53" fill="#ffffbf"/>
<rect x="177.66" y="329.96" width="11.01" height="5.53" fill="#f0f9dc"/>
<rect x="188.62" y="329.96" width="16.49" height="5.53" fill="#ffffbf"/>
<rect x="205.06" y="329.96" width="11.01" height="5.53" fill="#f0f9dc"/>
<rect x="216.02" y="329.96" width="5.53" height="5.53" fill="#e0f3f8"/>
<rect x="221.50" y="329.96" width="5.53" height="5.53" fill="#f0f9dc"/>
<rect x="226.98" y="329.96" width="5.53" height="5.53" fill="#4575b4"/>
<rect x="232.46" y="329.96" width="11.01" height="5.53" fill="#ffffbf"/>
<rect x="29.70" y="335.44" width="16.49" height="5.53" fill="#fee090"/>
<rect x="46.14" y="335.44" width="5.53" height="5.53" fill="#fef0a8"/>
<rect x="51.62" y="335.44" width="11.01" height="5.53" fill="#fdb674"/>
<rect x="62.58" y="335.44" width="11.01" height="5.53" fill="#fee090"/>
<rect x="73.54" y="335.44" width="5.53" height="5.53" fill="#fdb674"/>
<rect x="79.02" y="335.44" width="5.53" height="5.53" fill="#fee090"/>
<rect x="84.50" y="335.44" width="54.85" height="5.53" fill="#4575b4"/>
<rect x="139.30" y="335.44" width="5.53" height="5.53" fill="#ffffbf"/>
<rect x="144.78" y="335.44" width="5.53" height="5.53" fill="#f0f9dc"/>
<rect x="150.26" y="335.44" width="5.53" height="5.53" fill="#ffffbf"/>
<rect x="155.74" y="335.44" width="11.01" height="5.53" fill="#fdb674"/>
<rect x="166.70" y="335.44" width="16.49" height="5.53" fill="#fee090"/>
<rect x="183.14" y="335.44" width="5.53" height="5.53" fill="#fef0a8"/>
<rect x="188.62" y="335.44" width="11.01" height="5.53" fill="#fee090"/>
<rect x="199.58" y="335.44" width="5.53" height="5.53" fill="#fdb674"/>
<rect x="205.06" y="335.44" width="21.97" height="5.53" fill="#ffffbf"/>
<rect x="226.98" y="335.44" width="5.53" height="5.53" fill="#fef0a8"/>
<rect x="232.46" y="335.44" width="5.53" height="5.53" fill="#fee090"/>
<rect x="237.94" y="335.44" width="5.53" height="5.53" fill="#fef0a8"/>
<rect x="29.70" y="340.92" width="5.53" height="5.53" fill="#ffffbf"/>
<rect x="35.18" y="340.92" width="11.01" height="5.53" fill="#fee090"/>
<rect x="46.14" y="340.92" width="5.53" height="5.53" fill="#ffffbf"/>
<rect x="51.62" y="340.92" width="16.49" height="5.53" fill="#fdb674"/>
<rect x="68.06" y="340.92" width="5.53" height="5.53" fill="#fee090"/>
<rect x="73.54" y="340.92" width="5.53" height="5.53" fill="#fdb674"/>
<rect x="79.02" y="340.92" width="5.53" height="5.53" fill="#fee090"/>
<rect x="84.50" y="340.92" width="54.85" height="5.53" fill="#4575b4"/>
<rect x="139.30" y="340.92" width="5.53" height="5.53" fill="#fdb674"/>
<rect x="144.78" y="340.92" width="5.53" height="5.53" fill="#e0f3f8"/>
<rect x="150.26" y="340.92" width="5.53" height="5.53" fill="#ffffbf"/>
<rect x="155.74" y="340.92" width="5.53" height="5.53" fill="#fef0a8"/>
<rect x="161.22" y="340.92" width="5.53" height="5.53" fill="#fee090"/>
<rect x="166.70" y="340.92" width="5.53" height="5.53" fill="#ffffbf"/>
<rect x="172.18" y="340.92" width="5.53" height="5.53" fill="#f0f9dc"/>
<rect x="177.66" y="340.92" width="5.53" height="5.53" fill="#ffffbf"/>
<rect x="183.14" y="340.92" width="5.53" height="5.53" fill="#e0f3f8"/>
<rect x="188.62" y="340.92" width="5.53" height="5.53" fill="#ffffbf"/>
<rect x="194.10" y="340.92" width="5.53" height="5.53" fill="#fef0a8"/>
<rect x="199.58" y="340.92" width="5.53" height="5.53" fill="#ffffbf"/>
<rect x="205.06" y="340.92" width="16.49" height="5.53" fill="#f0f9dc"/>
<rect x="221.50" y="340.92" width="21.97" height="5.53" fill="#ffffbf"/>
<path d="M29.70 86.1V91.1M29.70 93.1V98.1M29.70 99.8V346.40M35.18 86.1V91.1M35.18 93.1V98.1M35.18 99.8V346.40M40.66 86.1V91.1M40.66 93.1V98.1M40.66 99.8V346.40M46.14 86.1V91.1M46.14 93.1V98.1M46.14 99.8V346.40M51.62 86.1V91.1M51.62 93.1V98.1M51.62 99.8V346.40M57.10 86.1V91.1M57.10 93.1V98.1M57.10 99.8V346.40M62.58 86.1V91.1M62.58 93.1V98.1M62.58 99.8V346.40M68.06 86.1V91.1M68.06 93.1V98.1M68.06 99.8V346.40M73.54 86.1V91.1M73.54 93.1V98.1M73.54 99.8V346.40M79.02 86.1V91.1M79.02 93.1V98.1M79.02 99.8V346.40M84.50 86.1V91.1M84.50 93.1V98.1M84.50 99.8V346.40M89.98 86.1V91.1M89.98 93.1V98.1M89.98 99.8V346.40M95.46 86.1V91.1M95.46 93.1V98.1M95.46 99.8V346.40M100.94 86.1V91.1M100.94 93.1V98.1M100.94 99.8V346.40M106.42 86.1V91.1M106.42 93.1V98.1M106.42 99.8V346.40M111.90 86.1V91.1M111.90 93.1V98.1M111.90 99.8V346.40M117.38 86.1V91.1M117.38 93.1V98.1M117.38 99.8V346.40M122.86 86.1V91.1M122.86 93.1V98.1M122.86 99.8V346.40M128.34 86.1V91.1M128.34 93.1V98.1M128.34 99.8V346.40M133.82 86.1V91.1M133.82 93.1V98.1M133.82 99.8V346.40M139.30 86.1V91.1M139.30 93.1V98.1M139.30 99.8V346.40M144.78 86.1V91.1M144.78 93.1V98.1M144.78 99.8V346.40M150.26 86.1V91.1M150.26 93.1V98.1M150.26 99.8V346.40M155.74 86.1V91.1M155.74 93.1V98.1M155.74 99.8V346.40M161.22 86.1V91.1M161.22 93.1V98.1M161.22 99.8V346.40M166.70 86.1V91.1M166.70 93.1V98.1M166.70 99.8V346.40M172.18 86.1V91.1M172.18 93.1V98.1M172.18 99.8V346.40M177.66 86.1V91.1M177.66 93.1V98.1M177.66 99.8V346.40M183.14 86.1V91.1M183.14 93.1V98.1M183.14 99.8V346.40M188.62 86.1V91.1M188.62 93.1V98.1M188.62 99.8V346.40M194.10 86.1V91.1M194.10 93.1V98.1M194.10 99.8V346.40M199.58 86.1V91.1M199.58 93.1V98.1M199.58 99.8V346.40M205.06 86.1V91.1M205.06 93.1V98.1M205.06 99.8V346.40M210.54 86.1V91.1M210.54 93.1V98.1M210.54 99.8V346.40M216.02 86.1V91.1M216.02 93.1V98.1M216.02 99.8V346.40M221.50 86.1V91.1M221.50 93.1V98.1M221.50 99.8V346.40M226.98 86.1V91.1M226.98 93.1V98.1M226.98 99.8V346.40M232.46 86.1V91.1M232.46 93.1V98.1M232.46 99.8V346.40M237.94 86.1V91.1M237.94 93.1V98.1M237.94 99.8V346.40M243.42 86.1V91.1M243.42 93.1V98.1M243.42 99.8V346.40M29.7 99.80H243.42M29.7 105.28H243.42M29.7 110.76H243.42M29.7 116.24H243.42M29.7 121.72H243.42M29.7 127.20H243.42M29.7 132.68H243.42M29.7 138.16H243.42M29.7 143.64H243.42M29.7 149.12H243.42M29.7 154.60H243.42M29.7 160.08H243.42M29.7 165.56H243.42M29.7 171.04H243.42M29.7 176.52H243.42M29.7 182.00H243.42M29.7 187.48H243.42M29.7 192.96H243.42M29.7 198.44H243.42M29.7 203.92H243.42M29.7 209.40H243.42M29.7 214.88H243.42M29.7 220.36H243.42M29.7 225.84H243.42M29.7 231.32H243.42M29.7 236.80H243.42M29.7 242.28H243.42M29.7 247.76H243.42M29.7 253.24H243.42M29.7 258.72H243.42M29.7 264.20H243.42M29.7 269.68H243.42M29.7 275.16H243.42M29.7 280.64H243.42M29.7 286.12H243.42M29.7 291.60H243.42M29.7 297.08H243.42M29.7 302.56H243.42M29.7 308.04H243.42M29.7 313.52H243.42M29.7 319.00H243.42M29.7 324.48H243.42M29.7 329.96H243.42M29.7 335.44H243.42M29.7 340.92H243.42M29.7 346.40H243.42M29.7 86.1H243.42M29.7 91.1H243.42M29.7 93.1H243.42M29.7 98.1H243.42" fill="none" stroke="#8e9096" stroke-width="0.6"/>
<text x="245.30" y="91.00" font-size="5.2" font-weight="bold" fill="#000">Housing</text>
<text x="245.30" y="97.80" font-size="5.2" font-weight="bold" fill="#000">Background</text>
<g font-size="5.47" fill="#000">
<text x="244.7" y="105.14">p__Firmicutes;c__Clostridia;o__Clostridiales;f__Lachnospiraceae;g__Lachnospiraceae NK4A136 group</text>
<text x="244.7" y="110.62">p__Firmicutes;c__Clostridia;o__Clostridiales;f__Ruminococcaceae;g__Ruminiclostridium 6</text>
<text x="244.7" y="116.10">p__Firmicutes;c__Clostridia;o__Clostridiales;f__Ruminococcaceae;g__[Eubacterium] coprostanoligenes group</text>
<text x="244.7" y="121.58">p__Bacteroidetes;c__Bacteroidia;o__Bacteroidales;f__Bacteroidales S24-7 group;g__</text>
<text x="244.7" y="127.06">p__Bacteroidetes;c__Bacteroidia;o__Bacteroidales;f__Bacteroidales S24-7 group;g__</text>
<text x="244.7" y="132.54">p__Bacteroidetes;c__Bacteroidia;o__Bacteroidales;f__Bacteroidales S24-7 group;g__</text>
<text x="244.7" y="138.02">p__Firmicutes;c__Clostridia;o__Clostridiales;f__Ruminococcaceae;g__Ruminococcaceae UCG-014</text>
<text x="244.7" y="143.50">p__Verrucomicrobia;c__Verrucomicrobiae;o__Verrucomicrobiales;f__Verrucomicrobiaceae;g__Akkermansia</text>
<text x="244.7" y="148.98">p__Bacteroidetes;c__Bacteroidia;o__Bacteroidales;f__Bacteroidales S24-7 group;g__</text>
<text x="244.7" y="154.46">p__Bacteroidetes;c__Bacteroidia;o__Bacteroidales;f__Bacteroidales S24-7 group;g__</text>
<text x="244.7" y="159.94">p__Bacteroidetes;c__Bacteroidia;o__Bacteroidales;f__Bacteroidales S24-7 group;g__</text>
<text x="244.7" y="165.42">p__Bacteroidetes;c__Bacteroidia;o__Bacteroidales;f__Bacteroidales S24-7 group;g__</text>
<text x="244.7" y="170.90">p__Firmicutes;c__Clostridia;o__Clostridiales;f__Lachnospiraceae;g__</text>
<text x="244.7" y="176.38">p__Firmicutes;c__Clostridia;o__Clostridiales;f__Lachnospiraceae;g__</text>
<text x="244.7" y="181.86">p__Firmicutes;c__Clostridia;o__Clostridiales;f__Ruminococcaceae;g__Ruminococcaceae UCG-014</text>
<text x="244.7" y="187.34">p__Firmicutes;c__Clostridia;o__Clostridiales;f__Ruminococcaceae;g__Ruminococcaceae UCG-014</text>
<text x="244.7" y="192.82">p__Firmicutes;c__Clostridia;o__Clostridiales;f__Ruminococcaceae;g__Ruminococcaceae UCG-014</text>
<text x="244.7" y="198.30">p__Firmicutes;c__Clostridia;o__Clostridiales;f__Ruminococcaceae;g__[Eubacterium] coprostanoligenes group</text>
<text x="244.7" y="203.78">p__Firmicutes;c__Clostridia;o__Clostridiales;f__Lachnospiraceae;g__Lachnoclostridium</text>
<text x="244.7" y="209.26">p__Firmicutes;c__Clostridia;o__Clostridiales;f__Lachnospiraceae;g__</text>
<text x="244.7" y="214.74">p__Bacteroidetes;c__Bacteroidia;o__Bacteroidales;f__Bacteroidales S24-7 group;g__</text>
<text x="244.7" y="220.22">p__Bacteroidetes;c__Bacteroidia;o__Bacteroidales;f__Bacteroidaceae;g__Bacteroides</text>
<text x="244.7" y="225.70">p__Bacteroidetes;c__Bacteroidia;o__Bacteroidales;f__Rikenellaceae;g__Alistipes</text>
<text x="244.7" y="231.18">p__Bacteroidetes;c__Bacteroidia;o__Bacteroidales;f__Bacteroidales S24-7 group;g__</text>
<text x="244.7" y="236.66">p__Bacteroidetes;c__Bacteroidia;o__Bacteroidales;f__Bacteroidales S24-7 group;g__</text>
<text x="244.7" y="242.14">p__Bacteroidetes;c__Bacteroidia;o__Bacteroidales;f__Bacteroidales S24-7 group;g__</text>
<text x="244.7" y="247.62">p__Saccharibacteria;c___;o___;f___;g__Candidatus Saccharimonas</text>
<text x="244.7" y="253.10">p__Saccharibacteria;c___;o___;f___;g__Candidatus Saccharimonas</text>
<text x="244.7" y="258.58">p__Proteobacteria;c__Epsilonproteobacteria;o__Campylobacterales;f__Helicobacteraceae;g__Helicobacter</text>
<text x="244.7" y="264.06">p__Proteobacteria;c__Betaproteobacteria;o__Burkholderiales;f__Alcaligenaceae;g__Parasutterella</text>
<text x="244.7" y="269.54">p__Bacteroidetes;c__Bacteroidia;o__Bacteroidales;f__Bacteroidales S24-7 group;g__</text>
<text x="244.7" y="275.02">p__Bacteroidetes;c__Bacteroidia;o__Bacteroidales;f__Bacteroidales S24-7 group;g__</text>
<text x="244.7" y="280.50">p__Bacteroidetes;c__Bacteroidia;o__Bacteroidales;f__Bacteroidales S24-7 group;g__</text>
<text x="244.7" y="285.98">p__Bacteroidetes;c__Bacteroidia;o__Bacteroidales;f__Bacteroidales S24-7 group;g__</text>
<text x="244.7" y="291.46">p__Bacteroidetes;c__Bacteroidia;o__Bacteroidales;f__Prevotellaceae;g__</text>
<text x="244.7" y="296.94">p__Bacteroidetes;c__Bacteroidia;o__Bacteroidales;f__Bacteroidales S24-7 group;g__</text>
<text x="244.7" y="302.42">p__Bacteroidetes;c__Bacteroidia;o__Bacteroidales;f__Bacteroidales S24-7 group;g__</text>
<text x="244.7" y="307.90">p__Actinobacteria;c__Actinobacteria;o__Bifidobacteriales;f__Bifidobacteriaceae;g__Bifidobacterium</text>
<text x="244.7" y="313.38">p__Firmicutes;c__Bacilli;o__Lactobacillales;f__Lactobacillaceae;g__Lactobacillus</text>
<text x="244.7" y="318.86">p__Bacteroidetes;c__Bacteroidia;o__Bacteroidales;f__Bacteroidales S24-7 group;g__</text>
<text x="244.7" y="324.34">p__Bacteroidetes;c__Bacteroidia;o__Bacteroidales;f__Bacteroidales S24-7 group;g__</text>
<text x="244.7" y="329.82">p__Bacteroidetes;c__Bacteroidia;o__Bacteroidales;f__Porphyromonadaceae;g__</text>
<text x="244.7" y="335.30">p__Proteobacteria;c__Betaproteobacteria;o__Burkholderiales;f__Alcaligenaceae;g__Parasutterella</text>
<text x="244.7" y="340.78">p__Bacteroidetes;c__Bacteroidia;o__Bacteroidales;f__Bacteroidales S24-7 group;g__</text>
<text x="244.7" y="346.26">p__Bacteroidetes;c__Bacteroidia;o__Bacteroidales;f__Bacteroidales S24-7 group;g__</text>
</g>
<text x="19.60" y="384.90" font-size="11.6" font-weight="bold" fill="#000">B</text>
<rect x="30.5" y="400.5" width="131" height="117.8" fill="#fff" stroke="#222" stroke-width="0.9"/>
<ellipse cx="78.7" cy="425.3" rx="14.6" ry="20.6" transform="rotate(-17 78.7 425.3)" fill="#dcdcde"/>
<ellipse cx="39.3" cy="499.8" rx="7.1" ry="17" transform="rotate(11 39.3 499.8)" fill="#dcdcde"/>
<ellipse cx="144.2" cy="479.3" rx="17.6" ry="13.4" transform="rotate(-38 144.2 479.3)" fill="#dcdcde"/>
<text x="41.10" y="530.80" font-size="7.7" text-anchor="middle" fill="#222">−2</text>
<text x="63.05" y="530.80" font-size="7.7" text-anchor="middle" fill="#222">−1</text>
<text x="86.60" y="530.80" font-size="7.7" text-anchor="middle" fill="#222">0</text>
<text x="108.55" y="530.80" font-size="7.7" text-anchor="middle" fill="#222">1</text>
<text x="130.50" y="530.80" font-size="7.7" text-anchor="middle" fill="#222">2</text>
<text x="152.45" y="530.80" font-size="7.7" text-anchor="middle" fill="#222">3</text>
<text x="24.70" y="505.25" font-size="7.7" text-anchor="end" fill="#222">−2</text>
<text x="24.70" y="483.35" font-size="7.7" text-anchor="end" fill="#222">−1</text>
<text x="24.70" y="461.45" font-size="7.7" text-anchor="end" fill="#222">0</text>
<text x="24.70" y="439.55" font-size="7.7" text-anchor="end" fill="#222">1</text>
<text x="24.70" y="417.65" font-size="7.7" text-anchor="end" fill="#222">2</text>
<path d="M42.70 518.3v3.6M64.65 518.3v3.6M86.60 518.3v3.6M108.55 518.3v3.6M130.50 518.3v3.6M152.45 518.3v3.6M30.5 502.50h-3.6M30.5 480.60h-3.6M30.5 458.70h-3.6M30.5 436.80h-3.6M30.5 414.90h-3.6" stroke="#222" stroke-width="0.8" fill="none"/>
<text x="96.50" y="542.20" font-size="8.6" text-anchor="middle" fill="#222" textLength="35.3" lengthAdjust="spacingAndGlyphs">PC1 [32%]</text>
<text x="0.00" y="0.00" font-size="8.6" text-anchor="middle" fill="#222" textLength="34.6" lengthAdjust="spacingAndGlyphs" transform="translate(13.2 466.3) rotate(-90)">PC2 [14%]</text>
<g fill="#114a8b"><circle cx="75.6" cy="407.1" r="0.95"/><circle cx="79.4" cy="414.0" r="0.95"/><circle cx="74.3" cy="416.6" r="0.95"/><circle cx="83.5" cy="419.7" r="0.95"/><circle cx="69.0" cy="425.8" r="0.95"/><circle cx="68.6" cy="427.9" r="0.95"/><circle cx="83.7" cy="426.7" r="0.95"/><circle cx="75.7" cy="432.2" r="0.95"/><circle cx="78.8" cy="431.7" r="0.95"/><circle cx="43.6" cy="488.0" r="0.95"/><circle cx="38.4" cy="489.8" r="0.95"/><circle cx="37.7" cy="493.7" r="0.95"/><circle cx="41.5" cy="496.9" r="0.95"/><circle cx="40.2" cy="498.4" r="0.95"/><circle cx="42.4" cy="497.2" r="0.95"/><circle cx="41.5" cy="501.2" r="0.95"/><circle cx="35.5" cy="504.7" r="0.95"/><circle cx="36.7" cy="505.3" r="0.95"/><circle cx="40.8" cy="511.4" r="0.95"/><circle cx="127.2" cy="412.4" r="0.95"/></g>
<g fill="#c4122f"><circle cx="70.2" cy="425.8" r="0.95"/><circle cx="77.5" cy="427.0" r="0.95"/><circle cx="78.0" cy="428.4" r="0.95"/><circle cx="82.0" cy="427.0" r="0.95"/><circle cx="80.9" cy="431.3" r="0.95"/><circle cx="85.4" cy="431.0" r="0.95"/><circle cx="91.3" cy="434.8" r="0.95"/><circle cx="76.2" cy="439.1" r="0.95"/><circle cx="84.0" cy="437.4" r="0.95"/><circle cx="140.4" cy="467.1" r="0.95"/><circle cx="156.2" cy="469.9" r="0.95"/><circle cx="146.0" cy="478.8" r="0.95"/><circle cx="153.8" cy="480.5" r="0.95"/><circle cx="155.1" cy="480.7" r="0.95"/><circle cx="156.6" cy="481.8" r="0.95"/><circle cx="152.6" cy="484.4" r="0.95"/><circle cx="152.6" cy="485.9" r="0.95"/><circle cx="138.3" cy="485.4" r="0.95"/><circle cx="137.7" cy="489.5" r="0.95"/><circle cx="127.4" cy="405.2" r="0.95"/></g>
<text x="130.60" y="408.60" font-size="7.2" fill="#222">WT</text>
<text x="130.60" y="418.20" font-size="7.0" fill="#222"><tspan font-style="italic">Ifnlr1</tspan><tspan dy="-2.7" font-size="5.3" letter-spacing="0.6" font-style="italic">−/−</tspan></text>
<text x="81.20" y="454.40" font-size="7.4" text-anchor="middle" fill="#2a2a2a">Co-housed</text>
<text x="51.90" y="501.50" font-size="7.4" fill="#2a2a2a">Single</text>
<text x="51.90" y="509.80" font-size="7.4" fill="#2a2a2a">housed</text>
<text x="129.80" y="503.20" font-size="7.4" fill="#2a2a2a">Single</text>
<text x="129.80" y="512.20" font-size="7.4" fill="#2a2a2a">housed</text>
<text x="175.60" y="384.90" font-size="11.6" font-weight="bold" fill="#000">C</text>
<path d="M190.4 386.8H187.3V407.6H190.4M263.8 387.3H261V408.5H263.8" fill="none" stroke="#222" stroke-width="0.8"/>
<text x="183.00" y="400.30" font-size="7" text-anchor="middle" fill="#222">*</text>
<text x="256.70" y="400.60" font-size="7" text-anchor="middle" fill="#222">*</text>
<path d="M193.4 386.8H203.7" stroke="#c4122f" stroke-width="1.1"/><circle cx="198.6" cy="386.8" r="1.5" fill="#c4122f"/>
<path d="M193.4 407.7H203.7" stroke="#114a8b" stroke-width="1.1"/><circle cx="198.6" cy="407.7" r="1.5" fill="#114a8b"/>
<text x="205.80" y="389.40" font-size="7.4" fill="#222">WT single</text>
<text x="205.80" y="398.20" font-size="7.4" fill="#222">housed</text>
<text x="205.80" y="410.30" font-size="7.4" fill="#222"><tspan font-style="italic">Ifnlr1</tspan><tspan dy="-2.8" font-size="5.6" letter-spacing="0.7" font-style="italic">−/−</tspan><tspan dy="2.8" letter-spacing="0"> single</tspan></text>
<text x="205.80" y="419.30" font-size="7.4" fill="#222">housed</text>
<path d="M266.3 387.3H278" stroke="#c4122f" stroke-width="1.1" stroke-dasharray="2.2 1.4"/><path d="M270.5 388.8l1.7-3 1.7 3z" fill="#c4122f" stroke="#c4122f" stroke-width="0.5"/>
<path d="M266.3 408.8H278" stroke="#114a8b" stroke-width="1.1" stroke-dasharray="2.2 1.4"/><rect x="270.7" y="407.3" width="3" height="3" fill="#fff" stroke="#114a8b" stroke-width="0.8"/>
<text x="279.40" y="390.20" font-size="7.4" fill="#222">WT co-housed</text>
<text x="279.40" y="398.60" font-size="7.4" fill="#222">with <tspan font-style="italic">Ifnlr1</tspan><tspan dy="-2.8" font-size="5.6" letter-spacing="0.7" font-style="italic">−/−</tspan></text>
<text x="279.40" y="411.40" font-size="7.4" fill="#222"><tspan font-style="italic">Ifnlr1</tspan><tspan dy="-2.8" font-size="5.6" letter-spacing="0.7" font-style="italic">−/−</tspan><tspan dy="2.8" letter-spacing="0"> co-housed</tspan></text>
<text x="279.40" y="419.80" font-size="7.4" fill="#222">with WT</text>
<path d="M194.00 429.38H215.94V446.16H218.86V463.82H227.64V472.65H251.04V481.48H253.96V490.31H265.66V507.97H286.14V516.80" fill="none" stroke="#114a8b" stroke-width="1.3" stroke-dasharray="2.4 1.5"/>
<path d="M194.00 428.50H220.32V437.33H252.50V446.16H255.43V454.99H258.35V472.65H278.82V481.48H287.60V490.31H290.52V499.14H302.23V507.97H328.55V516.80" fill="none" stroke="#c4122f" stroke-width="1.3" stroke-dasharray="2.4 1.5"/>
<path d="M194.00 428.50H217.11V446.16H223.25V454.99H255.43V463.82H258.35V472.65H264.20V481.48H267.12V499.14H275.90V507.97H299.30V516.80" fill="none" stroke="#114a8b" stroke-width="1.3"/>
<path d="M194.00 428.50H217.40V437.33H264.20V446.16H267.12V454.99H272.98V463.82H275.90V472.65H290.52V481.48H296.38V490.31H302.23V507.97H340.25" fill="none" stroke="#c4122f" stroke-width="1.3"/>
<g fill="#c4122f"><circle cx="217.40" cy="437.33" r="1.4"/><circle cx="264.20" cy="446.16" r="1.4"/><circle cx="267.12" cy="454.99" r="1.4"/><circle cx="272.98" cy="463.82" r="1.4"/><circle cx="275.90" cy="472.65" r="1.4"/><circle cx="290.52" cy="481.48" r="1.4"/><circle cx="296.38" cy="490.31" r="1.4"/><circle cx="302.23" cy="507.97" r="1.4"/><circle cx="340.25" cy="507.97" r="1.4"/></g>
<g fill="#114a8b"><circle cx="217.11" cy="446.16" r="1.4"/><circle cx="223.25" cy="454.99" r="1.4"/><circle cx="255.43" cy="463.82" r="1.4"/><circle cx="258.35" cy="472.65" r="1.4"/><circle cx="264.20" cy="481.48" r="1.4"/><circle cx="267.12" cy="499.14" r="1.4"/><circle cx="275.90" cy="507.97" r="1.4"/><circle cx="299.30" cy="516.80" r="1.4"/></g>
<g fill="#c4122f"><path d="M218.82 438.53l1.5-2.7 1.5 2.7z"/><path d="M251.00 447.36l1.5-2.7 1.5 2.7z"/><path d="M253.93 456.19l1.5-2.7 1.5 2.7z"/><path d="M256.85 473.85l1.5-2.7 1.5 2.7z"/><path d="M277.32 482.68l1.5-2.7 1.5 2.7z"/><path d="M286.10 491.51l1.5-2.7 1.5 2.7z"/><path d="M289.02 500.34l1.5-2.7 1.5 2.7z"/><path d="M300.73 509.17l1.5-2.7 1.5 2.7z"/><path d="M327.05 518.00l1.5-2.7 1.5 2.7z"/></g>
<g fill="#fff" stroke="#114a8b" stroke-width="0.7"><rect x="214.49" y="444.71" width="2.9" height="2.9"/><rect x="217.41" y="462.37" width="2.9" height="2.9"/><rect x="226.19" y="471.20" width="2.9" height="2.9"/><rect x="249.59" y="480.03" width="2.9" height="2.9"/><rect x="252.51" y="488.86" width="2.9" height="2.9"/><rect x="264.21" y="506.52" width="2.9" height="2.9"/></g>
<text x="189.40" y="519.75" font-size="8.3" text-anchor="end" fill="#1c1c1c">0</text>
<text x="189.40" y="497.67" font-size="8.3" text-anchor="end" fill="#1c1c1c">25</text>
<text x="189.40" y="475.60" font-size="8.3" text-anchor="end" fill="#1c1c1c">50</text>
<text x="189.40" y="453.52" font-size="8.3" text-anchor="end" fill="#1c1c1c">75</text>
<text x="189.40" y="431.45" font-size="8.3" text-anchor="end" fill="#1c1c1c">100</text>
<text x="194.00" y="529.60" font-size="8.3" text-anchor="middle" fill="#1c1c1c">0</text>
<text x="223.25" y="529.60" font-size="8.3" text-anchor="middle" fill="#1c1c1c">10</text>
<text x="252.50" y="529.60" font-size="8.3" text-anchor="middle" fill="#1c1c1c">20</text>
<text x="281.75" y="529.60" font-size="8.3" text-anchor="middle" fill="#1c1c1c">30</text>
<text x="311.00" y="529.60" font-size="8.3" text-anchor="middle" fill="#1c1c1c">40</text>
<text x="340.25" y="529.60" font-size="8.3" text-anchor="middle" fill="#1c1c1c">50</text>
<path d="M194.0 419V516.8H340.65M194.0 516.80h-3.2M194.0 494.72h-3.2M194.0 472.65h-3.2M194.0 450.57h-3.2M194.0 428.50h-3.2M194.00 516.8v3.2M223.25 516.8v3.2M252.50 516.8v3.2M281.75 516.8v3.2M311.00 516.8v3.2M340.25 516.8v3.2" stroke="#151515" stroke-width="1.1" fill="none"/>
<text x="267.30" y="538.90" font-size="8.7" text-anchor="middle" fill="#222" textLength="67.5" lengthAdjust="spacingAndGlyphs">Days post-transplant</text>
<text x="0.00" y="0.00" font-size="8.7" text-anchor="middle" fill="#222" textLength="33.4" lengthAdjust="spacingAndGlyphs" transform="translate(173.6 475.1) rotate(-90)">% Survival</text>
<text x="357.20" y="384.90" font-size="11.6" font-weight="bold" fill="#000">D</text>
<text x="357.30" y="431.10" font-size="7.0" text-anchor="end" fill="#222">WT</text>
<text x="358.60" y="491.40" font-size="7.3" text-anchor="end" fill="#222"><tspan font-style="italic">Ifnlr1</tspan><tspan dy="-2.8" font-size="5.6" letter-spacing="0.7" font-style="italic">−/−</tspan></text>
<defs><clipPath id="d1"><rect x="359.9" y="404.1" width="71.9" height="54.0"/></clipPath><clipPath id="d2"><rect x="434.3" y="404.1" width="39.0" height="54.2"/></clipPath><clipPath id="d3"><rect x="476.4" y="404.1" width="38.8" height="54.2"/></clipPath><clipPath id="d4"><rect x="359.9" y="460.8" width="71.9" height="53.9"/></clipPath><clipPath id="d5"><rect x="434.3" y="460.8" width="39.0" height="53.8"/></clipPath><clipPath id="d6"><rect x="476.4" y="460.8" width="38.8" height="53.8"/></clipPath></defs>
<g clip-path="url(#d1)"><g filter="url(#grain)"><rect x="357.9" y="402.1" width="75.9" height="58.0" fill="#b9b9b9"/>
<ellipse cx="372" cy="455" rx="24" ry="12" fill="#a4a4a4" filter="url(#b3)"/>
<ellipse cx="405" cy="410" rx="30" ry="8" fill="#bdbdbd" filter="url(#b3)"/>
<ellipse cx="400" cy="431" rx="16" ry="5" fill="#7a7a7a" filter="url(#b2)" opacity="0.8"/>
<g filter="url(#rough)"><circle cx="363.2" cy="421.2" r="3" fill="#555"/><circle cx="366" cy="426" r="2" fill="#777"/><circle cx="375.4" cy="413.5" r="1.8" fill="#666"/><circle cx="374.6" cy="417" r="1.5" fill="#777"/><circle cx="382.8" cy="428.6" r="4.3" fill="#585858"/><circle cx="403.2" cy="428.4" r="5.4" fill="#424242"/><circle cx="398.3" cy="436.8" r="3" fill="#505050"/><circle cx="425.3" cy="428.6" r="6.3" fill="#454545"/><circle cx="421.2" cy="418.6" r="2.2" fill="#555"/><circle cx="404" cy="445" r="1.6" fill="#888"/><circle cx="392" cy="453" r="2.2" fill="#909090"/></g>
<g filter="url(#b05)"><circle cx="383.5" cy="429.5" r="1.3" fill="#aaa"/><circle cx="398.3" cy="436.8" r="1" fill="#ddd"/><circle cx="421.2" cy="418.8" r="0.9" fill="#eee"/><circle cx="404" cy="427" r="1.3" fill="#5a5a5a"/></g>
</g></g>
<rect x="403.2" y="452" width="27.3" height="2.4" fill="#fff"/>
<g clip-path="url(#d2)"><g filter="url(#grain)"><rect x="432.3" y="402.1" width="43.0" height="58.2" fill="#b0b0b0"/>
<ellipse cx="445" cy="440" rx="10" ry="14" fill="#9c9c9c" filter="url(#b3)"/>
<ellipse cx="466" cy="445" rx="8" ry="10" fill="#bcbcbc" filter="url(#b3)"/>
<g filter="url(#rough)"><ellipse cx="457" cy="424" rx="9.5" ry="8.5" fill="#3a3a3a"/><ellipse cx="448" cy="418" rx="5" ry="5" fill="#666"/><ellipse cx="461" cy="431" rx="5" ry="4" fill="#444"/></g>
<g filter="url(#b1)"><path d="M447.3 419L443 427.7L440.4 435.5L438.7 440.7L439.5 445.3L447.3 446.4L450.4 441.5L447.3 436.3L448.7 429.4" fill="#9a9a9a" stroke="#444" stroke-width="1.3"/><circle cx="440.5" cy="450.5" r="2.6" fill="none" stroke="#6a6a6a" stroke-width="0.9"/><circle cx="440.6" cy="441.6" r="1.6" fill="#eee"/><circle cx="444" cy="452" r="3" fill="#888"/><circle cx="441" cy="411" r="2" fill="#888"/><circle cx="470" cy="420" r="1" fill="#555"/></g>
</g></g>
<rect x="456" y="452" width="16.4" height="2.4" fill="#fff"/>
<g clip-path="url(#d3)"><g filter="url(#grain)"><rect x="474.4" y="402.1" width="42.8" height="58.2" fill="#999999"/>
<ellipse cx="482" cy="407" rx="6" ry="4" fill="#6c6c6c" filter="url(#b2)"/>
<ellipse cx="505" cy="456.5" rx="7" ry="1.6" fill="#666" filter="url(#b1)"/>
<g filter="url(#b05)"><circle cx="496.1" cy="421.6" r="8.8" fill="#a6a6a6" stroke="#2c2c2c" stroke-width="1.25"/><circle cx="494" cy="423" r="0.8" fill="#555"/><circle cx="498" cy="419" r="0.7" fill="#555"/><circle cx="497" cy="425.5" r="0.7" fill="#666"/><circle cx="500.5" cy="417" r="1.3" fill="#888"/></g>
</g></g>
<rect x="497.2" y="452" width="16.4" height="2.3" fill="#fff"/>
<g clip-path="url(#d4)"><g filter="url(#grain)"><rect x="357.9" y="458.8" width="75.9" height="57.9" fill="#ababab"/>
<g filter="url(#b1)"><circle cx="397.5" cy="470.7" r="1.6" fill="#7d7d7d"/><circle cx="366.4" cy="491.1" r="2" fill="#888"/><circle cx="386.9" cy="488.4" r="1.2" fill="#666"/><circle cx="417.1" cy="500.1" r="1.5" fill="#888"/><circle cx="381" cy="468" r="2" fill="#999"/><circle cx="370" cy="478" r="2" fill="#999"/><circle cx="398" cy="509" r="1.6" fill="#888"/><circle cx="364" cy="510" r="1.4" fill="#909090"/><circle cx="429" cy="503" r="1.2" fill="#909090"/><circle cx="430" cy="468" r="1" fill="#888"/></g>
<g filter="url(#b05)"><circle cx="370" cy="467" r="1.5" fill="#fff" stroke="#333" stroke-width="0.9"/><ellipse cx="401.6" cy="499.3" rx="1.4" ry="2" fill="#999" stroke="#444" stroke-width="0.8"/></g>
</g></g>
<rect x="403.2" y="508.6" width="27.3" height="2.4" fill="#fff"/>
<g clip-path="url(#d5)"><g filter="url(#grain)"><rect x="432.3" y="458.8" width="43.0" height="57.8" fill="#b1b1b1"/>
<g filter="url(#b2)"><circle cx="443" cy="502.7" r="4" fill="#8c8c8c"/><ellipse cx="461.2" cy="497" rx="5" ry="4" fill="#929292"/><rect x="457.5" y="501.5" width="15" height="6" fill="#9d9d9d"/></g>
<g filter="url(#b05)"><ellipse cx="452.5" cy="480.2" rx="4.1" ry="5" fill="#9a9a9a" stroke="#4d4d4d" stroke-width="1" transform="rotate(20 452.5 480.2)"/><circle cx="452" cy="480" r="1.8" fill="#888"/></g>
<path d="M457.5 501.3H473" stroke="#ddd" stroke-width="0.5"/>
</g></g>
<rect x="456" y="508.8" width="16.4" height="2.3" fill="#fff"/>
<g clip-path="url(#d6)"><g filter="url(#grain)"><rect x="474.4" y="458.8" width="42.8" height="57.8" fill="#acacac"/>
<g filter="url(#b2)"><ellipse cx="492" cy="492" rx="6" ry="5" fill="#999"/><ellipse cx="506" cy="500" rx="5" ry="4" fill="#9a9a9a"/></g>
<g filter="url(#b05)"><circle cx="498.4" cy="481.1" r="6.3" fill="#9c9c9c" stroke="#404040" stroke-width="1.4"/><circle cx="493" cy="489" r="0.6" fill="#555"/><circle cx="496" cy="492" r="0.6" fill="#555"/><circle cx="505" cy="489" r="0.6" fill="#555"/><circle cx="508" cy="494" r="0.6" fill="#555"/><circle cx="500" cy="471" r="0.6" fill="#666"/><circle cx="498" cy="480" r="3" fill="#8a8a8a"/><circle cx="497" cy="484.5" r="1" fill="#ccc"/><circle cx="509" cy="483" r="0.9" fill="#666"/><circle cx="490" cy="490" r="0.7" fill="#666"/><circle cx="503" cy="497" r="0.7" fill="#666"/><circle cx="478" cy="481" r="1.6" fill="none" stroke="#999" stroke-width="0.4"/></g>
</g></g>
<rect x="498" y="508.8" width="16.3" height="2.3" fill="#fff"/>
<text x="418.90" y="524.80" font-size="7.9" text-anchor="middle" fill="#1a1a1a">400µm</text>
<text x="460.10" y="524.80" font-size="7.9" text-anchor="middle" fill="#1a1a1a">100µm</text>
<text x="501.30" y="524.80" font-size="7.9" text-anchor="middle" fill="#1a1a1a">100µm</text>
<text x="10.20" y="557.50" font-size="11.6" font-weight="bold" fill="#000">E</text>
<text x="29.90" y="571.90" font-size="8.1" text-anchor="end" fill="#1c1c1c">8</text>
<text x="29.90" y="596.65" font-size="8.1" text-anchor="end" fill="#1c1c1c">6</text>
<text x="29.90" y="621.40" font-size="8.1" text-anchor="end" fill="#1c1c1c">4</text>
<text x="29.90" y="646.15" font-size="8.1" text-anchor="end" fill="#1c1c1c">2</text>
<text x="29.90" y="670.90" font-size="8.1" text-anchor="end" fill="#1c1c1c">0</text>
<rect x="42.7" y="587.8" width="11.6" height="80.2" fill="#fff" stroke="#111" stroke-width="0.9"/>
<rect x="58.6" y="622.1" width="11.6" height="45.9" fill="#c6c7cb" stroke="#111" stroke-width="0.9"/>
<path d="M35.2 568.6V668H78.2M35.2 569h-3.4M35.2 593.75h-3.4M35.2 618.5h-3.4M35.2 643.25h-3.4M35.2 668h-3.4" stroke="#111" stroke-width="1.1" fill="none"/>
<path d="M48.5 585.4V587.8M46.0 585.4H51.0" stroke="#111" stroke-width="0.8" fill="none"/>
<path d="M64.3 618.1V622.1M61.5 618.1H67.1" stroke="#111" stroke-width="0.8" fill="none"/>
<g fill="#c4122f"><circle cx="43.75" cy="581.5" r="1.35"/><circle cx="50.6" cy="581.5" r="1.35"/><circle cx="46.25" cy="584.75" r="1.35"/><circle cx="50.6" cy="587.75" r="1.35"/><circle cx="44" cy="591.25" r="1.35"/><circle cx="52.75" cy="591.9" r="1.35"/><circle cx="48.4" cy="594" r="1.35"/></g>
<g fill="#114a8b"><circle cx="64.1" cy="611.6" r="1.35"/><circle cx="59.4" cy="618.5" r="1.35"/><circle cx="62.5" cy="620.4" r="1.35"/><circle cx="65.9" cy="621.5" r="1.35"/><circle cx="69" cy="620.25" r="1.35"/><circle cx="64.1" cy="637.9" r="1.35"/></g>
<path d="M43.1 569H71" stroke="#111" stroke-width="1.25"/>
<text x="56.00" y="568.90" font-size="7.4" text-anchor="middle" font-weight="bold" fill="#111">**</text>
<text x="0.00" y="0.00" font-size="8.8" text-anchor="middle" fill="#222" textLength="76.6" lengthAdjust="spacingAndGlyphs" transform="translate(20.2 618.7) rotate(-90)">Colonic organoids/field</text>
<text x="0.00" y="0.00" font-size="8.6" text-anchor="end" fill="#222" transform="translate(52.8 675.6) rotate(-40)">WT</text>
<text x="0.00" y="0.00" font-size="8.2" text-anchor="end" fill="#222" transform="translate(69.8 674.6) rotate(-47)"><tspan font-style="italic">Ifnlr1</tspan><tspan dy="-3.2" font-size="6.2" letter-spacing="0.6" font-style="italic">−/−</tspan></text>
<text x="117.80" y="557.50" font-size="11.6" font-weight="bold" fill="#000">F</text>
<text x="125.60" y="576.30" font-size="8.0" text-anchor="end" fill="#1c1c1c">0.025</text>
<text x="125.60" y="596.10" font-size="8.0" text-anchor="end" fill="#1c1c1c">0.020</text>
<text x="125.60" y="615.70" font-size="8.0" text-anchor="end" fill="#1c1c1c">0.015</text>
<text x="125.60" y="635.30" font-size="8.0" text-anchor="end" fill="#1c1c1c">0.010</text>
<text x="125.60" y="655.10" font-size="8.0" text-anchor="end" fill="#1c1c1c">0.005</text>
<text x="125.60" y="674.90" font-size="8.0" text-anchor="end" fill="#1c1c1c">0.000</text>
<rect x="138.5" y="618.6" width="11.8" height="53.4" fill="#fff" stroke="#111" stroke-width="0.9"/>
<rect x="153.8" y="634.7" width="11.8" height="37.3" fill="#c6c7cb" stroke="#111" stroke-width="0.9"/>
<path d="M131.3 573V672H173M131.3 573.4h-3.4M131.3 593.2h-3.4M131.3 612.8h-3.4M131.3 632.4h-3.4M131.3 652.2h-3.4M131.3 672h-3.4" stroke="#111" stroke-width="1.1" fill="none"/>
<path d="M144.3 611.2V618.6M141.3 611.2H147.3" stroke="#111" stroke-width="0.8" fill="none"/>
<path d="M159.8 630.4V634.7M156.8 630.4H162.8" stroke="#111" stroke-width="0.8" fill="none"/>
<g fill="#c4122f"><circle cx="144.2" cy="592.2" r="1.35"/><circle cx="144.2" cy="603.4" r="1.35"/><circle cx="144.2" cy="608.5" r="1.35"/><circle cx="144.2" cy="618.5" r="1.35"/><circle cx="144.2" cy="624" r="1.35"/><circle cx="144.2" cy="634.1" r="1.35"/><circle cx="144.2" cy="647.9" r="1.35"/></g>
<g fill="#114a8b"><circle cx="159.8" cy="618.2" r="1.35"/><circle cx="164.1" cy="631.7" r="1.35"/><circle cx="155.7" cy="634.1" r="1.35"/><circle cx="159.8" cy="634.1" r="1.35"/><circle cx="162.1" cy="642.8" r="1.35"/><circle cx="157.6" cy="644.9" r="1.35"/></g>
<path d="M137.5 573.4H166.5" stroke="#111" stroke-width="1.25"/>
<text x="152.40" y="573.20" font-size="7.4" text-anchor="middle" font-weight="bold" fill="#111">*</text>
<text x="0.00" y="0.00" font-size="8.8" text-anchor="middle" fill="#222" textLength="89.5" lengthAdjust="spacingAndGlyphs" transform="translate(100.1 622.6) rotate(-90)">Cross-sectional area (mm<tspan dy="-2.6" font-size="4.8">2</tspan><tspan dy="2.6">)</tspan></text>
<text x="0.00" y="0.00" font-size="8.6" text-anchor="end" fill="#222" transform="translate(148.5 679.6) rotate(-40)">WT</text>
<text x="0.00" y="0.00" font-size="8.2" text-anchor="end" fill="#222" transform="translate(165.3 678.6) rotate(-47)"><tspan font-style="italic">Ifnlr1</tspan><tspan dy="-3.2" font-size="6.2" letter-spacing="0.6" font-style="italic">−/−</tspan></text>
<text x="201.40" y="557.70" font-size="11.6" font-weight="bold" fill="#000">G</text>
<text x="230.90" y="590.40" font-size="7.8" text-anchor="end" fill="#1a1a1a">Lgr5<tspan dy="-3" font-size="5.9">Cre−</tspan></text>
<text x="230.90" y="599.80" font-size="7.8" text-anchor="end" fill="#1a1a1a"><tspan font-style="italic">Ifnlr1</tspan><tspan dy="-3" font-size="5.3" font-style="italic" letter-spacing="0.25">fl/fl</tspan></text>
<text x="230.90" y="649.60" font-size="7.8" text-anchor="end" fill="#1a1a1a">Lgr5<tspan dy="-3" font-size="5.9">Cre+</tspan></text>
<text x="230.90" y="658.80" font-size="7.8" text-anchor="end" fill="#1a1a1a"><tspan font-style="italic">Ifnlr1</tspan><tspan dy="-3" font-size="5.3" font-style="italic" letter-spacing="0.25">fl/fl</tspan></text>
<text x="235.50" y="691.20" font-size="7.9" fill="#1a1a1a">200µm</text>
<defs><clipPath id="g1"><rect x="236.8" y="558.3" width="79.6" height="60"/></clipPath><clipPath id="g2"><rect x="236.8" y="620.4" width="79.6" height="59.8"/></clipPath></defs>
<g clip-path="url(#g1)"><g filter="url(#hgrain)">
<rect x="236.8" y="558.3" width="79.6" height="60" fill="#efeef0"/>
<path d="M235.4 560.4L252.3 561.1L274.3 563.3L296.3 566.2L318.3 569.6L318.3 579.4L296.3 575.2L274.3 571.8L252.3 569.6L235.4 568.9z" fill="#e2449a" />
<path d="M235.4 568.9L252.3 569.6L274.3 571.8L296.3 575.2L318.3 579.4L318.3 583.1L296.3 581.1L274.3 579.4L252.3 578.7L235.4 578.7z" fill="#f0dbe8" />
<path d="M235.4 578.2L252.3 578.4L274.3 579.2L296.3 580.7L318.3 582.8L318.3 613.2L299.7 608.5L274.3 604.8L252.3 606.8L235.4 609.5z" fill="#b0529f" />
<path d="M235.4 609.5L252.3 606.8L274.3 604.8L299.7 608.5L318.3 613.2L318.3 615.3L299.7 610.9L274.3 607.8L252.3 610.5L235.4 613.6z" fill="#fbf6fa" />
<path d="M235.4 613.6L252.3 610.5L274.3 607.8L299.7 610.9L318.3 615.3L318.3 621.7L235.4 621.7z" fill="#c850a6" />
<path d="M235.4 578.4L252.3 578.5L274.3 579.4L296.3 580.9L318.3 582.9" stroke="#d6449c" stroke-width="1" fill="none"/>
<path d="M239.6 583.6L236.6 602.2M245.4 584.0L242.3 602.6M251.1 584.3L248.1 602.9M256.9 584.6L253.8 603.2M262.6 585.0L259.6 603.6M268.4 585.3L265.3 603.9M274.1 585.6L271.1 604.3M279.9 586.0L276.8 604.6M285.6 586.3L282.6 604.9M291.4 586.7L288.4 605.3M297.2 587.0L294.1 605.6M302.9 587.3L299.9 606.0M308.7 587.7L305.6 606.3M314.4 588.0L311.4 606.6" stroke="#7b3a93" stroke-width="1.3" fill="none" opacity="0.7" filter="url(#b05)"/>
</g>
<path d="M235.4 557.4L318.3 557.4L318.3 569.6L296.3 566.2L274.3 563.3L252.3 561.1L235.4 560.4z" fill="#efeef0" />
<path d="M235.4 609.5L252.3 606.8L274.3 604.8L299.7 608.5L318.3 613.2L318.3 615.3L299.7 610.9L274.3 607.8L252.3 610.5L235.4 613.6z" fill="#fbf6fa" filter="url(#b05)"/>
<rect x="239.6" y="613.7" width="17.8" height="2.3" fill="#d5d0d6"/>
</g>
<rect x="236.8" y="558.3" width="79.6" height="60" fill="none" stroke="#9a9a9a" stroke-width="0.7"/>
<g clip-path="url(#g2)"><g filter="url(#hgrain)">
<rect x="236.8" y="620.4" width="79.6" height="59.8" fill="#c266b0"/>
<path d="M235.4 619.4L260.8 619.4L250.6 626.2L235.4 632.9z" fill="#dd55a6" filter="url(#b1)"/>
<path d="M260.8 683.7L267.5 671.8L281.1 660.0L299.7 654.1L318.3 652.4L318.3 683.7z" fill="#e24fa0" filter="url(#b1)"/>
<path d="M268.4 681.2C272.6 670.2 281.1 666.8 292.9 666.4S311.5 668.5 316.6 674.4" stroke="#f6d5e6" stroke-width="1" fill="none" filter="url(#b05)"/>
</g>
<path d="M318.3 629.2L304.8 631.2L287.8 635.5L270.9 638.8L257.4 641.4L237.1 642.2L237.1 656.6L248.9 655.3L254.0 649.8L260.8 644.1L274.3 641.4L289.5 638.0L306.5 633.3L318.3 632.9z" fill="#fdfbfd" />
<rect x="239.6" y="675.2" width="17.8" height="2.4" fill="#d5d0d6"/>
</g>
<rect x="236.8" y="620.4" width="79.6" height="59.8" fill="none" stroke="#9a9a9a" stroke-width="0.7"/>
<text x="354.40" y="557.50" font-size="11.6" font-weight="bold" fill="#000">H</text>
<text x="380.40" y="573.90" font-size="8.1" text-anchor="end" fill="#1c1c1c">15</text>
<text x="380.40" y="599.20" font-size="8.1" text-anchor="end" fill="#1c1c1c">10</text>
<text x="380.40" y="624.50" font-size="8.1" text-anchor="end" fill="#1c1c1c">5</text>
<text x="380.40" y="649.90" font-size="8.1" text-anchor="end" fill="#1c1c1c">0</text>
<rect x="391.6" y="594.9" width="11.8" height="52.1" fill="#fff" stroke="#111" stroke-width="0.9"/>
<rect x="406.4" y="581.1" width="11.4" height="65.9" fill="#c6c7cb" stroke="#111" stroke-width="0.9"/>
<path d="M385.8 555.4V647H424.8M385.8 571h-3.4M385.8 596.3h-3.4M385.8 621.6h-3.4M385.8 647h-3.4" stroke="#111" stroke-width="1.1" fill="none"/>
<path d="M397.5 592.2V597.4M394.5 592.2H400.5M394.5 597.4H400.5" stroke="#111" stroke-width="0.8" fill="none"/>
<path d="M412.1 577.5V581.1M409.3 577.5H414.90000000000003" stroke="#111" stroke-width="0.8" fill="none"/>
<g fill="#c4122f"><circle cx="397.5" cy="581.1" r="1.25"/><circle cx="392.5" cy="591.5" r="1.25"/><circle cx="394.9" cy="591.5" r="1.25"/><circle cx="397.5" cy="591.5" r="1.25"/><circle cx="399.9" cy="591.5" r="1.25"/><circle cx="402.4" cy="591.5" r="1.25"/><circle cx="394.9" cy="596.5" r="1.25"/><circle cx="397.5" cy="596.5" r="1.25"/><circle cx="399.9" cy="596.5" r="1.25"/><circle cx="397.5" cy="616.7" r="1.25"/></g>
<g fill="#114a8b"><circle cx="412.1" cy="565.9" r="1.25"/><circle cx="412.1" cy="571" r="1.25"/><circle cx="407.1" cy="576.3" r="1.25"/><circle cx="412.1" cy="576.3" r="1.25"/><circle cx="416.8" cy="576.3" r="1.25"/><circle cx="409.6" cy="581.1" r="1.25"/><circle cx="414.3" cy="581.1" r="1.25"/><circle cx="409.4" cy="591.5" r="1.25"/><circle cx="414.4" cy="591.5" r="1.25"/><circle cx="412.1" cy="596.5" r="1.25"/></g>
<path d="M393.2 555.2H417.9" stroke="#111" stroke-width="1.25"/>
<text x="406.30" y="555.00" font-size="7.4" text-anchor="middle" font-weight="bold" fill="#111">*</text>
<text x="0.00" y="0.00" font-size="8.8" text-anchor="middle" fill="#222" textLength="73.4" lengthAdjust="spacingAndGlyphs" transform="translate(367 601.7) rotate(-90)">Colon pathology score</text>
<text x="0.00" y="0.00" font-size="8.6" text-anchor="end" fill="#1a1a1a" transform="translate(399.8 655.0) rotate(-45)">Lgr5<tspan dy="-3.2" font-size="5.8">Cre−</tspan><tspan dy="3.2" font-size="8.6"> </tspan><tspan font-style="italic" font-size="8.5">Ifnlr1</tspan><tspan dy="-3.2" font-size="5.6" font-style="italic" letter-spacing="0.2">fl/fl</tspan></text>
<text x="0.00" y="0.00" font-size="8.6" text-anchor="end" fill="#1a1a1a" transform="translate(414.8 656.0) rotate(-45)">Lgr5<tspan dy="-3.2" font-size="5.8">Cre+</tspan><tspan dy="3.2" font-size="8.6"> </tspan><tspan font-style="italic" font-size="8.5">Ifnlr1</tspan><tspan dy="-3.2" font-size="5.6" font-style="italic" letter-spacing="0.2">fl/fl</tspan></text>
<text x="445.80" y="556.60" font-size="11.8" font-weight="bold" fill="#000">I</text>
<text x="470.20" y="557.10" font-size="8.1" text-anchor="end" fill="#1c1c1c">10</text>
<text x="470.20" y="575.30" font-size="8.1" text-anchor="end" fill="#1c1c1c">8</text>
<text x="470.20" y="593.70" font-size="8.1" text-anchor="end" fill="#1c1c1c">6</text>
<text x="470.20" y="611.90" font-size="8.1" text-anchor="end" fill="#1c1c1c">4</text>
<text x="470.20" y="630.10" font-size="8.1" text-anchor="end" fill="#1c1c1c">2</text>
<text x="470.20" y="648.40" font-size="8.1" text-anchor="end" fill="#1c1c1c">0</text>
<rect x="482" y="580.7" width="11.6" height="64.8" fill="#fff" stroke="#111" stroke-width="0.9"/>
<rect x="496.8" y="606.6" width="11.2" height="38.9" fill="#c6c7cb" stroke="#111" stroke-width="0.9"/>
<path d="M475.4 554V645.5H514.8M475.4 554.2h-3.4M475.4 572.4h-3.4M475.4 590.8h-3.4M475.4 609h-3.4M475.4 627.2h-3.4M475.4 645.5h-3.4" stroke="#111" stroke-width="1.1" fill="none"/>
<path d="M487.9 574.9V582.7M484.9 574.9H490.9M484.9 582.7H490.9" stroke="#111" stroke-width="0.8" fill="none"/>
<path d="M502.2 602.3V609.4M499.2 602.3H505.2M499.2 609.4H505.2" stroke="#111" stroke-width="0.8" fill="none"/>
<g fill="#c4122f"><circle cx="487.6" cy="561.2" r="1.3"/><circle cx="482.9" cy="580.3" r="1.3"/><circle cx="492.6" cy="580.3" r="1.3"/><circle cx="486.6" cy="581.7" r="1.3"/><circle cx="489.3" cy="582.5" r="1.3"/><circle cx="487.6" cy="586.5" r="1.3"/></g>
<g fill="#114a8b"><circle cx="499.4" cy="599.3" r="1.3"/><circle cx="505" cy="597.6" r="1.3"/><circle cx="502.1" cy="603" r="1.3"/><circle cx="499.4" cy="606.7" r="1.3"/><circle cx="505" cy="609" r="1.3"/><circle cx="502.1" cy="620.7" r="1.3"/></g>
<path d="M483.9 554.4H511.5" stroke="#111" stroke-width="1.25"/>
<text x="497.10" y="554.40" font-size="7.4" text-anchor="middle" font-weight="bold" fill="#111">**</text>
<text x="0.00" y="0.00" font-size="8.8" text-anchor="middle" fill="#222" textLength="71.9" lengthAdjust="spacingAndGlyphs" transform="translate(457.1 600.2) rotate(-90)">Colon organoids/field</text>
<text x="0.00" y="0.00" font-size="8.6" text-anchor="end" fill="#1a1a1a" transform="translate(494.4 651.2) rotate(-45)">Lgr5<tspan dy="-3.2" font-size="5.8">Cre−</tspan><tspan dy="3.2" font-size="8.6"> </tspan><tspan font-style="italic" font-size="8.5">Ifnlr1</tspan><tspan dy="-3.2" font-size="5.6" font-style="italic" letter-spacing="0.2">fl/fl</tspan></text>
<text x="0.00" y="0.00" font-size="8.6" text-anchor="end" fill="#1a1a1a" transform="translate(509.6 652.0) rotate(-45)">Lgr5<tspan dy="-3.2" font-size="5.8">Cre+</tspan><tspan dy="3.2" font-size="8.6"> </tspan><tspan font-style="italic" font-size="8.5">Ifnlr1</tspan><tspan dy="-3.2" font-size="5.6" font-style="italic" letter-spacing="0.2">fl/fl</tspan></text>
<path d="M0 0H520V705H0z M1.2 1.2V703.3H518.4V1.2z" fill="#000" fill-rule="evenodd"/>
</svg>
</body></html>
